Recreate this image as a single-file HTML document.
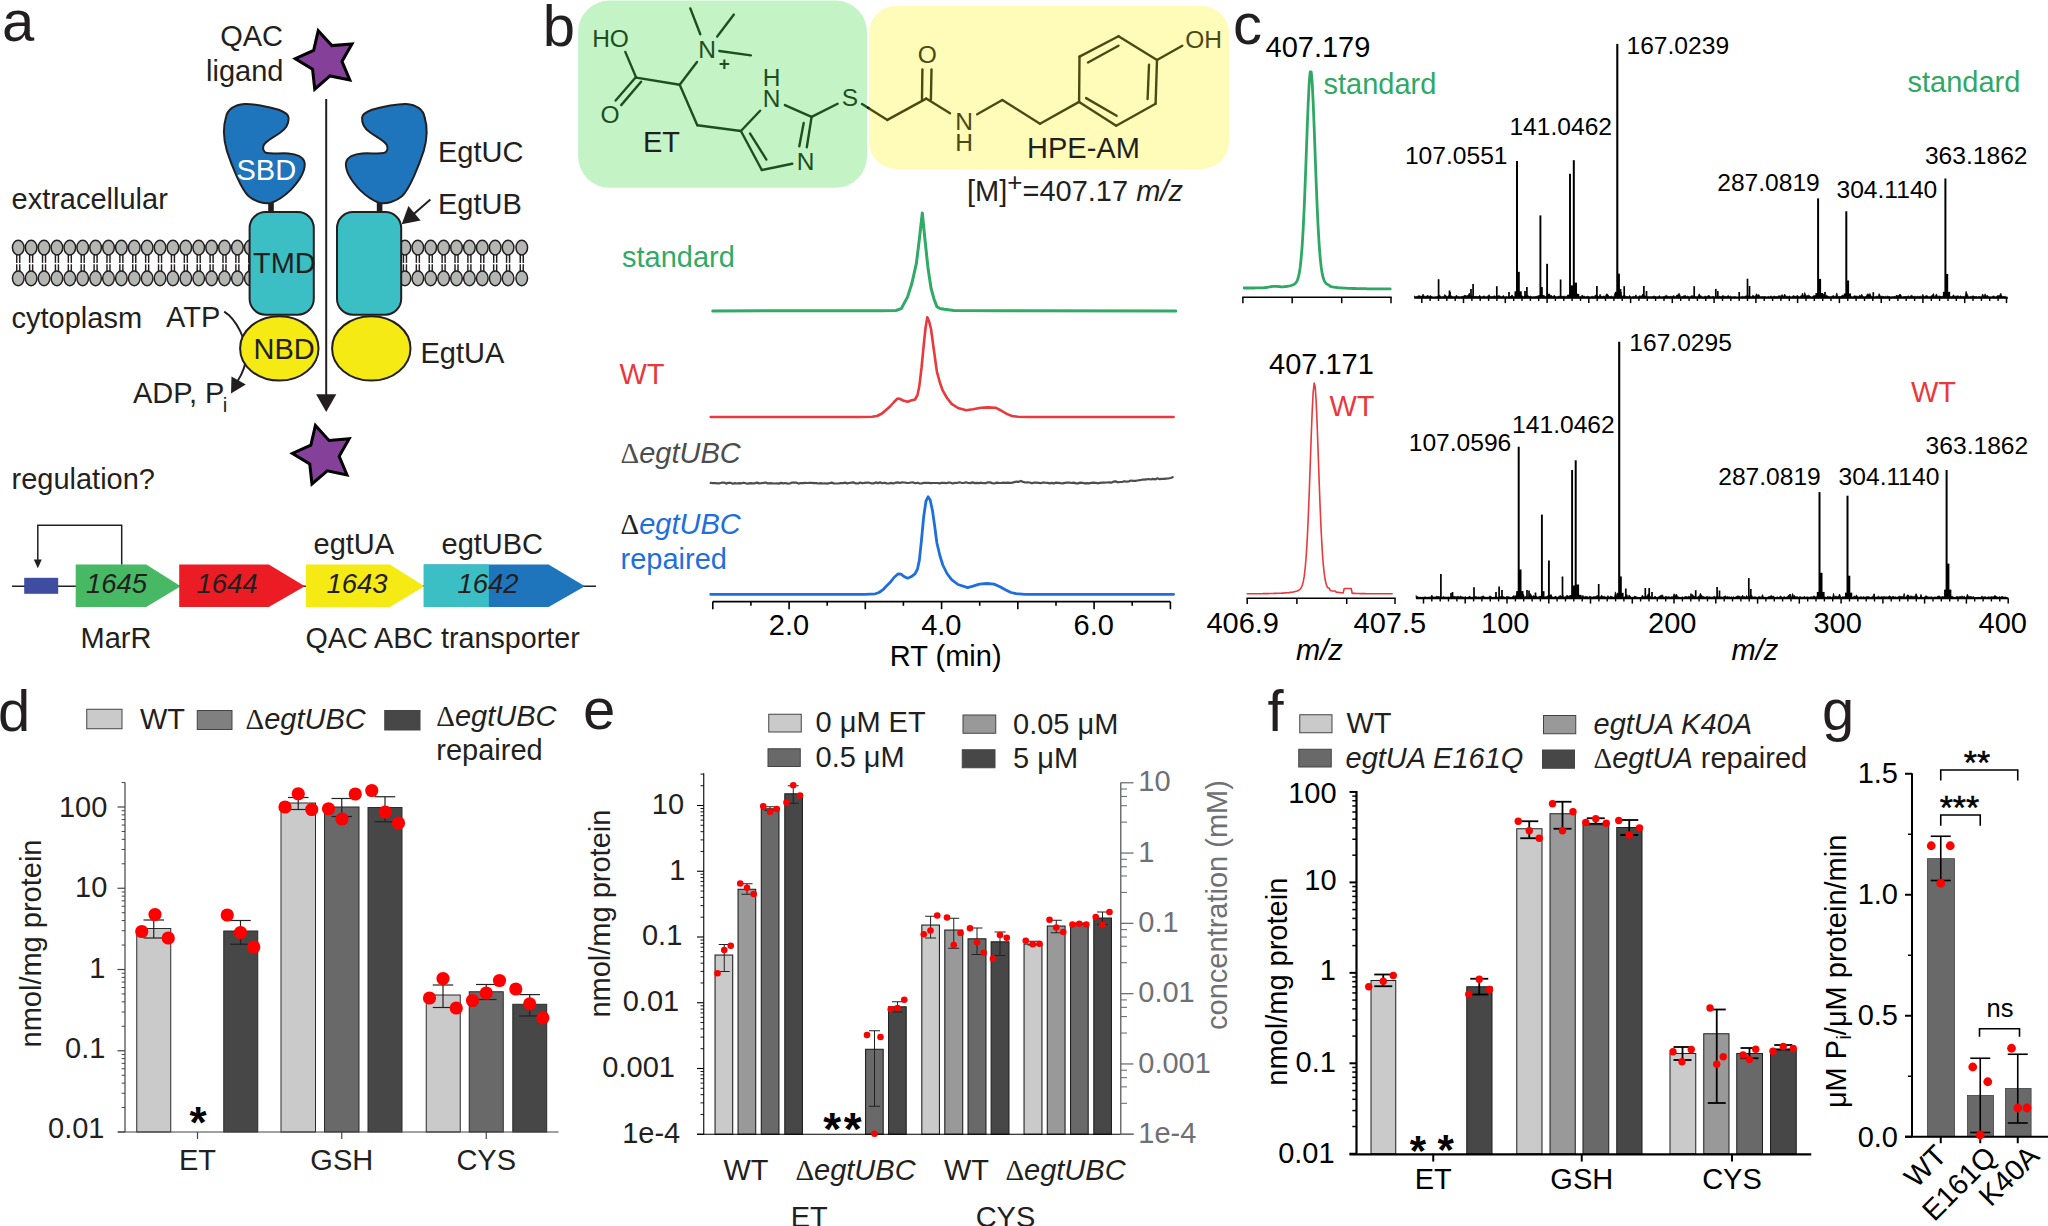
<!DOCTYPE html>
<html lang="en"><head><meta charset="utf-8"><title>Figure</title>
<style>html,body{margin:0;padding:0;background:#fff}svg{display:block}text{font-family:"Liberation Sans",sans-serif}</style>
</head><body>
<svg width="2048" height="1226" viewBox="0 0 2048 1226" font-family='"Liberation Sans", sans-serif'>
<rect width="2048" height="1226" fill="#fff"/>
<g id="pa">
<text x="2" y="41" font-size="58" fill="#231f20">a</text>
<text x="283" y="46" font-size="29" text-anchor="end" fill="#231f20">QAC</text>
<text x="283.5" y="80.5" font-size="29" text-anchor="end" fill="#231f20">ligand</text>
<text x="11.5" y="208.8" font-size="29" fill="#231f20">extracellular</text>
<text x="11.5" y="327.5" font-size="29" fill="#231f20">cytoplasm</text>
<text x="166" y="327" font-size="29" fill="#231f20">ATP</text>
<text x="133" y="403" font-size="29" fill="#231f20">ADP, P</text>
<text x="222.8" y="411.5" font-size="20.5" fill="#231f20">i</text>
<text x="11.5" y="488.8" font-size="29" fill="#231f20">regulation?</text>
<text x="438" y="161.5" font-size="29" fill="#231f20">EgtUC</text>
<text x="438" y="213.8" font-size="29" fill="#231f20">EgtUB</text>
<text x="420.5" y="362.5" font-size="29" fill="#231f20">EgtUA</text>
<polygon points="318.24,30.69 331.84,45.60 351.95,43.91 341.97,61.45 349.80,80.05 330.03,75.98 314.76,89.18 312.52,69.12 295.25,58.67 313.64,50.34" fill="#85409a" stroke="#000" stroke-width="3" stroke-linejoin="miter" stroke-miterlimit="10"/>
<polygon points="315.44,425.49 329.04,440.40 349.15,438.71 339.17,456.25 347.00,474.85 327.23,470.78 311.96,483.98 309.72,463.92 292.45,453.47 310.84,445.14" fill="#85409a" stroke="#000" stroke-width="3" stroke-linejoin="miter" stroke-miterlimit="10"/>
<line x1="16.75" y1="254" x2="16.75" y2="262.9" stroke="#231f20" stroke-width="1.45"/>
<line x1="16.75" y1="264.3" x2="16.75" y2="272" stroke="#231f20" stroke-width="1.45"/>
<line x1="19.75" y1="254" x2="19.75" y2="262.9" stroke="#231f20" stroke-width="1.45"/>
<line x1="19.75" y1="264.3" x2="19.75" y2="272" stroke="#231f20" stroke-width="1.45"/>
<ellipse cx="18.25" cy="247.6" rx="5.8" ry="7.35" fill="#b4b6b4" stroke="#231f20" stroke-width="1.5"/>
<ellipse cx="18.25" cy="278.3" rx="5.8" ry="7.35" fill="#b4b6b4" stroke="#231f20" stroke-width="1.5"/>
<line x1="29.64" y1="254" x2="29.64" y2="262.9" stroke="#231f20" stroke-width="1.45"/>
<line x1="29.64" y1="264.3" x2="29.64" y2="272" stroke="#231f20" stroke-width="1.45"/>
<line x1="32.64" y1="254" x2="32.64" y2="262.9" stroke="#231f20" stroke-width="1.45"/>
<line x1="32.64" y1="264.3" x2="32.64" y2="272" stroke="#231f20" stroke-width="1.45"/>
<ellipse cx="31.14" cy="247.6" rx="5.8" ry="7.35" fill="#b4b6b4" stroke="#231f20" stroke-width="1.5"/>
<ellipse cx="31.14" cy="278.3" rx="5.8" ry="7.35" fill="#b4b6b4" stroke="#231f20" stroke-width="1.5"/>
<line x1="42.53" y1="254" x2="42.53" y2="262.9" stroke="#231f20" stroke-width="1.45"/>
<line x1="42.53" y1="264.3" x2="42.53" y2="272" stroke="#231f20" stroke-width="1.45"/>
<line x1="45.53" y1="254" x2="45.53" y2="262.9" stroke="#231f20" stroke-width="1.45"/>
<line x1="45.53" y1="264.3" x2="45.53" y2="272" stroke="#231f20" stroke-width="1.45"/>
<ellipse cx="44.03" cy="247.6" rx="5.8" ry="7.35" fill="#b4b6b4" stroke="#231f20" stroke-width="1.5"/>
<ellipse cx="44.03" cy="278.3" rx="5.8" ry="7.35" fill="#b4b6b4" stroke="#231f20" stroke-width="1.5"/>
<line x1="55.42" y1="254" x2="55.42" y2="262.9" stroke="#231f20" stroke-width="1.45"/>
<line x1="55.42" y1="264.3" x2="55.42" y2="272" stroke="#231f20" stroke-width="1.45"/>
<line x1="58.42" y1="254" x2="58.42" y2="262.9" stroke="#231f20" stroke-width="1.45"/>
<line x1="58.42" y1="264.3" x2="58.42" y2="272" stroke="#231f20" stroke-width="1.45"/>
<ellipse cx="56.92" cy="247.6" rx="5.8" ry="7.35" fill="#b4b6b4" stroke="#231f20" stroke-width="1.5"/>
<ellipse cx="56.92" cy="278.3" rx="5.8" ry="7.35" fill="#b4b6b4" stroke="#231f20" stroke-width="1.5"/>
<line x1="68.31" y1="254" x2="68.31" y2="262.9" stroke="#231f20" stroke-width="1.45"/>
<line x1="68.31" y1="264.3" x2="68.31" y2="272" stroke="#231f20" stroke-width="1.45"/>
<line x1="71.31" y1="254" x2="71.31" y2="262.9" stroke="#231f20" stroke-width="1.45"/>
<line x1="71.31" y1="264.3" x2="71.31" y2="272" stroke="#231f20" stroke-width="1.45"/>
<ellipse cx="69.81" cy="247.6" rx="5.8" ry="7.35" fill="#b4b6b4" stroke="#231f20" stroke-width="1.5"/>
<ellipse cx="69.81" cy="278.3" rx="5.8" ry="7.35" fill="#b4b6b4" stroke="#231f20" stroke-width="1.5"/>
<line x1="81.20" y1="254" x2="81.20" y2="262.9" stroke="#231f20" stroke-width="1.45"/>
<line x1="81.20" y1="264.3" x2="81.20" y2="272" stroke="#231f20" stroke-width="1.45"/>
<line x1="84.20" y1="254" x2="84.20" y2="262.9" stroke="#231f20" stroke-width="1.45"/>
<line x1="84.20" y1="264.3" x2="84.20" y2="272" stroke="#231f20" stroke-width="1.45"/>
<ellipse cx="82.70" cy="247.6" rx="5.8" ry="7.35" fill="#b4b6b4" stroke="#231f20" stroke-width="1.5"/>
<ellipse cx="82.70" cy="278.3" rx="5.8" ry="7.35" fill="#b4b6b4" stroke="#231f20" stroke-width="1.5"/>
<line x1="94.09" y1="254" x2="94.09" y2="262.9" stroke="#231f20" stroke-width="1.45"/>
<line x1="94.09" y1="264.3" x2="94.09" y2="272" stroke="#231f20" stroke-width="1.45"/>
<line x1="97.09" y1="254" x2="97.09" y2="262.9" stroke="#231f20" stroke-width="1.45"/>
<line x1="97.09" y1="264.3" x2="97.09" y2="272" stroke="#231f20" stroke-width="1.45"/>
<ellipse cx="95.59" cy="247.6" rx="5.8" ry="7.35" fill="#b4b6b4" stroke="#231f20" stroke-width="1.5"/>
<ellipse cx="95.59" cy="278.3" rx="5.8" ry="7.35" fill="#b4b6b4" stroke="#231f20" stroke-width="1.5"/>
<line x1="106.98" y1="254" x2="106.98" y2="262.9" stroke="#231f20" stroke-width="1.45"/>
<line x1="106.98" y1="264.3" x2="106.98" y2="272" stroke="#231f20" stroke-width="1.45"/>
<line x1="109.98" y1="254" x2="109.98" y2="262.9" stroke="#231f20" stroke-width="1.45"/>
<line x1="109.98" y1="264.3" x2="109.98" y2="272" stroke="#231f20" stroke-width="1.45"/>
<ellipse cx="108.48" cy="247.6" rx="5.8" ry="7.35" fill="#b4b6b4" stroke="#231f20" stroke-width="1.5"/>
<ellipse cx="108.48" cy="278.3" rx="5.8" ry="7.35" fill="#b4b6b4" stroke="#231f20" stroke-width="1.5"/>
<line x1="119.87" y1="254" x2="119.87" y2="262.9" stroke="#231f20" stroke-width="1.45"/>
<line x1="119.87" y1="264.3" x2="119.87" y2="272" stroke="#231f20" stroke-width="1.45"/>
<line x1="122.87" y1="254" x2="122.87" y2="262.9" stroke="#231f20" stroke-width="1.45"/>
<line x1="122.87" y1="264.3" x2="122.87" y2="272" stroke="#231f20" stroke-width="1.45"/>
<ellipse cx="121.37" cy="247.6" rx="5.8" ry="7.35" fill="#b4b6b4" stroke="#231f20" stroke-width="1.5"/>
<ellipse cx="121.37" cy="278.3" rx="5.8" ry="7.35" fill="#b4b6b4" stroke="#231f20" stroke-width="1.5"/>
<line x1="132.76" y1="254" x2="132.76" y2="262.9" stroke="#231f20" stroke-width="1.45"/>
<line x1="132.76" y1="264.3" x2="132.76" y2="272" stroke="#231f20" stroke-width="1.45"/>
<line x1="135.76" y1="254" x2="135.76" y2="262.9" stroke="#231f20" stroke-width="1.45"/>
<line x1="135.76" y1="264.3" x2="135.76" y2="272" stroke="#231f20" stroke-width="1.45"/>
<ellipse cx="134.26" cy="247.6" rx="5.8" ry="7.35" fill="#b4b6b4" stroke="#231f20" stroke-width="1.5"/>
<ellipse cx="134.26" cy="278.3" rx="5.8" ry="7.35" fill="#b4b6b4" stroke="#231f20" stroke-width="1.5"/>
<line x1="145.65" y1="254" x2="145.65" y2="262.9" stroke="#231f20" stroke-width="1.45"/>
<line x1="145.65" y1="264.3" x2="145.65" y2="272" stroke="#231f20" stroke-width="1.45"/>
<line x1="148.65" y1="254" x2="148.65" y2="262.9" stroke="#231f20" stroke-width="1.45"/>
<line x1="148.65" y1="264.3" x2="148.65" y2="272" stroke="#231f20" stroke-width="1.45"/>
<ellipse cx="147.15" cy="247.6" rx="5.8" ry="7.35" fill="#b4b6b4" stroke="#231f20" stroke-width="1.5"/>
<ellipse cx="147.15" cy="278.3" rx="5.8" ry="7.35" fill="#b4b6b4" stroke="#231f20" stroke-width="1.5"/>
<line x1="158.54" y1="254" x2="158.54" y2="262.9" stroke="#231f20" stroke-width="1.45"/>
<line x1="158.54" y1="264.3" x2="158.54" y2="272" stroke="#231f20" stroke-width="1.45"/>
<line x1="161.54" y1="254" x2="161.54" y2="262.9" stroke="#231f20" stroke-width="1.45"/>
<line x1="161.54" y1="264.3" x2="161.54" y2="272" stroke="#231f20" stroke-width="1.45"/>
<ellipse cx="160.04" cy="247.6" rx="5.8" ry="7.35" fill="#b4b6b4" stroke="#231f20" stroke-width="1.5"/>
<ellipse cx="160.04" cy="278.3" rx="5.8" ry="7.35" fill="#b4b6b4" stroke="#231f20" stroke-width="1.5"/>
<line x1="171.43" y1="254" x2="171.43" y2="262.9" stroke="#231f20" stroke-width="1.45"/>
<line x1="171.43" y1="264.3" x2="171.43" y2="272" stroke="#231f20" stroke-width="1.45"/>
<line x1="174.43" y1="254" x2="174.43" y2="262.9" stroke="#231f20" stroke-width="1.45"/>
<line x1="174.43" y1="264.3" x2="174.43" y2="272" stroke="#231f20" stroke-width="1.45"/>
<ellipse cx="172.93" cy="247.6" rx="5.8" ry="7.35" fill="#b4b6b4" stroke="#231f20" stroke-width="1.5"/>
<ellipse cx="172.93" cy="278.3" rx="5.8" ry="7.35" fill="#b4b6b4" stroke="#231f20" stroke-width="1.5"/>
<line x1="184.32" y1="254" x2="184.32" y2="262.9" stroke="#231f20" stroke-width="1.45"/>
<line x1="184.32" y1="264.3" x2="184.32" y2="272" stroke="#231f20" stroke-width="1.45"/>
<line x1="187.32" y1="254" x2="187.32" y2="262.9" stroke="#231f20" stroke-width="1.45"/>
<line x1="187.32" y1="264.3" x2="187.32" y2="272" stroke="#231f20" stroke-width="1.45"/>
<ellipse cx="185.82" cy="247.6" rx="5.8" ry="7.35" fill="#b4b6b4" stroke="#231f20" stroke-width="1.5"/>
<ellipse cx="185.82" cy="278.3" rx="5.8" ry="7.35" fill="#b4b6b4" stroke="#231f20" stroke-width="1.5"/>
<line x1="197.21" y1="254" x2="197.21" y2="262.9" stroke="#231f20" stroke-width="1.45"/>
<line x1="197.21" y1="264.3" x2="197.21" y2="272" stroke="#231f20" stroke-width="1.45"/>
<line x1="200.21" y1="254" x2="200.21" y2="262.9" stroke="#231f20" stroke-width="1.45"/>
<line x1="200.21" y1="264.3" x2="200.21" y2="272" stroke="#231f20" stroke-width="1.45"/>
<ellipse cx="198.71" cy="247.6" rx="5.8" ry="7.35" fill="#b4b6b4" stroke="#231f20" stroke-width="1.5"/>
<ellipse cx="198.71" cy="278.3" rx="5.8" ry="7.35" fill="#b4b6b4" stroke="#231f20" stroke-width="1.5"/>
<line x1="210.10" y1="254" x2="210.10" y2="262.9" stroke="#231f20" stroke-width="1.45"/>
<line x1="210.10" y1="264.3" x2="210.10" y2="272" stroke="#231f20" stroke-width="1.45"/>
<line x1="213.10" y1="254" x2="213.10" y2="262.9" stroke="#231f20" stroke-width="1.45"/>
<line x1="213.10" y1="264.3" x2="213.10" y2="272" stroke="#231f20" stroke-width="1.45"/>
<ellipse cx="211.60" cy="247.6" rx="5.8" ry="7.35" fill="#b4b6b4" stroke="#231f20" stroke-width="1.5"/>
<ellipse cx="211.60" cy="278.3" rx="5.8" ry="7.35" fill="#b4b6b4" stroke="#231f20" stroke-width="1.5"/>
<line x1="222.99" y1="254" x2="222.99" y2="262.9" stroke="#231f20" stroke-width="1.45"/>
<line x1="222.99" y1="264.3" x2="222.99" y2="272" stroke="#231f20" stroke-width="1.45"/>
<line x1="225.99" y1="254" x2="225.99" y2="262.9" stroke="#231f20" stroke-width="1.45"/>
<line x1="225.99" y1="264.3" x2="225.99" y2="272" stroke="#231f20" stroke-width="1.45"/>
<ellipse cx="224.49" cy="247.6" rx="5.8" ry="7.35" fill="#b4b6b4" stroke="#231f20" stroke-width="1.5"/>
<ellipse cx="224.49" cy="278.3" rx="5.8" ry="7.35" fill="#b4b6b4" stroke="#231f20" stroke-width="1.5"/>
<line x1="235.88" y1="254" x2="235.88" y2="262.9" stroke="#231f20" stroke-width="1.45"/>
<line x1="235.88" y1="264.3" x2="235.88" y2="272" stroke="#231f20" stroke-width="1.45"/>
<line x1="238.88" y1="254" x2="238.88" y2="262.9" stroke="#231f20" stroke-width="1.45"/>
<line x1="238.88" y1="264.3" x2="238.88" y2="272" stroke="#231f20" stroke-width="1.45"/>
<ellipse cx="237.38" cy="247.6" rx="5.8" ry="7.35" fill="#b4b6b4" stroke="#231f20" stroke-width="1.5"/>
<ellipse cx="237.38" cy="278.3" rx="5.8" ry="7.35" fill="#b4b6b4" stroke="#231f20" stroke-width="1.5"/>
<line x1="248.77" y1="254" x2="248.77" y2="262.9" stroke="#231f20" stroke-width="1.45"/>
<line x1="248.77" y1="264.3" x2="248.77" y2="272" stroke="#231f20" stroke-width="1.45"/>
<line x1="251.77" y1="254" x2="251.77" y2="262.9" stroke="#231f20" stroke-width="1.45"/>
<line x1="251.77" y1="264.3" x2="251.77" y2="272" stroke="#231f20" stroke-width="1.45"/>
<ellipse cx="250.27" cy="247.6" rx="5.8" ry="7.35" fill="#b4b6b4" stroke="#231f20" stroke-width="1.5"/>
<ellipse cx="250.27" cy="278.3" rx="5.8" ry="7.35" fill="#b4b6b4" stroke="#231f20" stroke-width="1.5"/>
<line x1="403.45" y1="254" x2="403.45" y2="262.9" stroke="#231f20" stroke-width="1.45"/>
<line x1="403.45" y1="264.3" x2="403.45" y2="272" stroke="#231f20" stroke-width="1.45"/>
<line x1="406.45" y1="254" x2="406.45" y2="262.9" stroke="#231f20" stroke-width="1.45"/>
<line x1="406.45" y1="264.3" x2="406.45" y2="272" stroke="#231f20" stroke-width="1.45"/>
<ellipse cx="404.95" cy="247.6" rx="5.8" ry="7.35" fill="#b4b6b4" stroke="#231f20" stroke-width="1.5"/>
<ellipse cx="404.95" cy="278.3" rx="5.8" ry="7.35" fill="#b4b6b4" stroke="#231f20" stroke-width="1.5"/>
<line x1="416.34" y1="254" x2="416.34" y2="262.9" stroke="#231f20" stroke-width="1.45"/>
<line x1="416.34" y1="264.3" x2="416.34" y2="272" stroke="#231f20" stroke-width="1.45"/>
<line x1="419.34" y1="254" x2="419.34" y2="262.9" stroke="#231f20" stroke-width="1.45"/>
<line x1="419.34" y1="264.3" x2="419.34" y2="272" stroke="#231f20" stroke-width="1.45"/>
<ellipse cx="417.84" cy="247.6" rx="5.8" ry="7.35" fill="#b4b6b4" stroke="#231f20" stroke-width="1.5"/>
<ellipse cx="417.84" cy="278.3" rx="5.8" ry="7.35" fill="#b4b6b4" stroke="#231f20" stroke-width="1.5"/>
<line x1="429.23" y1="254" x2="429.23" y2="262.9" stroke="#231f20" stroke-width="1.45"/>
<line x1="429.23" y1="264.3" x2="429.23" y2="272" stroke="#231f20" stroke-width="1.45"/>
<line x1="432.23" y1="254" x2="432.23" y2="262.9" stroke="#231f20" stroke-width="1.45"/>
<line x1="432.23" y1="264.3" x2="432.23" y2="272" stroke="#231f20" stroke-width="1.45"/>
<ellipse cx="430.73" cy="247.6" rx="5.8" ry="7.35" fill="#b4b6b4" stroke="#231f20" stroke-width="1.5"/>
<ellipse cx="430.73" cy="278.3" rx="5.8" ry="7.35" fill="#b4b6b4" stroke="#231f20" stroke-width="1.5"/>
<line x1="442.12" y1="254" x2="442.12" y2="262.9" stroke="#231f20" stroke-width="1.45"/>
<line x1="442.12" y1="264.3" x2="442.12" y2="272" stroke="#231f20" stroke-width="1.45"/>
<line x1="445.12" y1="254" x2="445.12" y2="262.9" stroke="#231f20" stroke-width="1.45"/>
<line x1="445.12" y1="264.3" x2="445.12" y2="272" stroke="#231f20" stroke-width="1.45"/>
<ellipse cx="443.62" cy="247.6" rx="5.8" ry="7.35" fill="#b4b6b4" stroke="#231f20" stroke-width="1.5"/>
<ellipse cx="443.62" cy="278.3" rx="5.8" ry="7.35" fill="#b4b6b4" stroke="#231f20" stroke-width="1.5"/>
<line x1="455.01" y1="254" x2="455.01" y2="262.9" stroke="#231f20" stroke-width="1.45"/>
<line x1="455.01" y1="264.3" x2="455.01" y2="272" stroke="#231f20" stroke-width="1.45"/>
<line x1="458.01" y1="254" x2="458.01" y2="262.9" stroke="#231f20" stroke-width="1.45"/>
<line x1="458.01" y1="264.3" x2="458.01" y2="272" stroke="#231f20" stroke-width="1.45"/>
<ellipse cx="456.51" cy="247.6" rx="5.8" ry="7.35" fill="#b4b6b4" stroke="#231f20" stroke-width="1.5"/>
<ellipse cx="456.51" cy="278.3" rx="5.8" ry="7.35" fill="#b4b6b4" stroke="#231f20" stroke-width="1.5"/>
<line x1="467.90" y1="254" x2="467.90" y2="262.9" stroke="#231f20" stroke-width="1.45"/>
<line x1="467.90" y1="264.3" x2="467.90" y2="272" stroke="#231f20" stroke-width="1.45"/>
<line x1="470.90" y1="254" x2="470.90" y2="262.9" stroke="#231f20" stroke-width="1.45"/>
<line x1="470.90" y1="264.3" x2="470.90" y2="272" stroke="#231f20" stroke-width="1.45"/>
<ellipse cx="469.40" cy="247.6" rx="5.8" ry="7.35" fill="#b4b6b4" stroke="#231f20" stroke-width="1.5"/>
<ellipse cx="469.40" cy="278.3" rx="5.8" ry="7.35" fill="#b4b6b4" stroke="#231f20" stroke-width="1.5"/>
<line x1="480.79" y1="254" x2="480.79" y2="262.9" stroke="#231f20" stroke-width="1.45"/>
<line x1="480.79" y1="264.3" x2="480.79" y2="272" stroke="#231f20" stroke-width="1.45"/>
<line x1="483.79" y1="254" x2="483.79" y2="262.9" stroke="#231f20" stroke-width="1.45"/>
<line x1="483.79" y1="264.3" x2="483.79" y2="272" stroke="#231f20" stroke-width="1.45"/>
<ellipse cx="482.29" cy="247.6" rx="5.8" ry="7.35" fill="#b4b6b4" stroke="#231f20" stroke-width="1.5"/>
<ellipse cx="482.29" cy="278.3" rx="5.8" ry="7.35" fill="#b4b6b4" stroke="#231f20" stroke-width="1.5"/>
<line x1="493.68" y1="254" x2="493.68" y2="262.9" stroke="#231f20" stroke-width="1.45"/>
<line x1="493.68" y1="264.3" x2="493.68" y2="272" stroke="#231f20" stroke-width="1.45"/>
<line x1="496.68" y1="254" x2="496.68" y2="262.9" stroke="#231f20" stroke-width="1.45"/>
<line x1="496.68" y1="264.3" x2="496.68" y2="272" stroke="#231f20" stroke-width="1.45"/>
<ellipse cx="495.18" cy="247.6" rx="5.8" ry="7.35" fill="#b4b6b4" stroke="#231f20" stroke-width="1.5"/>
<ellipse cx="495.18" cy="278.3" rx="5.8" ry="7.35" fill="#b4b6b4" stroke="#231f20" stroke-width="1.5"/>
<line x1="506.57" y1="254" x2="506.57" y2="262.9" stroke="#231f20" stroke-width="1.45"/>
<line x1="506.57" y1="264.3" x2="506.57" y2="272" stroke="#231f20" stroke-width="1.45"/>
<line x1="509.57" y1="254" x2="509.57" y2="262.9" stroke="#231f20" stroke-width="1.45"/>
<line x1="509.57" y1="264.3" x2="509.57" y2="272" stroke="#231f20" stroke-width="1.45"/>
<ellipse cx="508.07" cy="247.6" rx="5.8" ry="7.35" fill="#b4b6b4" stroke="#231f20" stroke-width="1.5"/>
<ellipse cx="508.07" cy="278.3" rx="5.8" ry="7.35" fill="#b4b6b4" stroke="#231f20" stroke-width="1.5"/>
<line x1="520.26" y1="254" x2="520.26" y2="262.9" stroke="#231f20" stroke-width="1.45"/>
<line x1="520.26" y1="264.3" x2="520.26" y2="272" stroke="#231f20" stroke-width="1.45"/>
<line x1="523.26" y1="254" x2="523.26" y2="262.9" stroke="#231f20" stroke-width="1.45"/>
<line x1="523.26" y1="264.3" x2="523.26" y2="272" stroke="#231f20" stroke-width="1.45"/>
<ellipse cx="521.76" cy="247.6" rx="5.8" ry="7.35" fill="#b4b6b4" stroke="#231f20" stroke-width="1.5"/>
<ellipse cx="521.76" cy="278.3" rx="5.8" ry="7.35" fill="#b4b6b4" stroke="#231f20" stroke-width="1.5"/>
<line x1="326.2" y1="99" x2="326.2" y2="396" stroke="#231f20" stroke-width="2.0"/>
<polygon points="316.1,394.2 336.3,394.2 326.2,412" fill="#231f20"/>
<path d="M224.2,311.7 C236,319 247,340 246.3,356 C245.6,367 241.5,375 237.6,381" fill="none" stroke="#231f20" stroke-width="2.0"/>
<polygon points="231.5,376.4 245.8,384.4 231,393.4" fill="#231f20"/>
<rect x="268.20" y="200.00" width="5.60" height="13.00" fill="#231f20"/>
<rect x="376.80" y="200.00" width="5.60" height="13.00" fill="#231f20"/>
<path d="M225.9,117.6 C227,110 234,104.5 244.5,103.9 C252,103.6 268,106.5 278.7,109.8 C284,111.8 288.3,114.5 288.5,117.5 C289,124 286,128.5 280.7,132.3 C275,136.5 266,140.5 263.8,145 C262.4,148.5 263.2,152.2 267,153.1 C272,154 280,153 288.5,153.4 C296,153.8 304.2,157 304.7,163.6 C305,169 302,178 290.5,190.1 C283,197.5 275,201.5 271,203 C264,204.2 255,201.5 248.4,195.9 C241,189 231.5,165 226.9,150.9 C224,141 222.8,128 225.9,117.6 Z" fill="#1f75bc" stroke="#231f20" stroke-width="2.0"/>
<g transform="translate(650.6 0) scale(-1 1)">
<path d="M225.9,117.6 C227,110 234,104.5 244.5,103.9 C252,103.6 268,106.5 278.7,109.8 C284,111.8 288.3,114.5 288.5,117.5 C289,124 286,128.5 280.7,132.3 C275,136.5 266,140.5 263.8,145 C262.4,148.5 263.2,152.2 267,153.1 C272,154 280,153 288.5,153.4 C296,153.8 304.2,157 304.7,163.6 C305,169 302,178 290.5,190.1 C283,197.5 275,201.5 271,203 C264,204.2 255,201.5 248.4,195.9 C241,189 231.5,165 226.9,150.9 C224,141 222.8,128 225.9,117.6 Z" fill="#1f75bc" stroke="#231f20" stroke-width="2.0"/>
</g>
<rect x="249.60" y="212.10" width="64.20" height="102.60" fill="#3bbfc4" stroke="#231f20" stroke-width="2.0" rx="16"/>
<rect x="337.00" y="212.10" width="64.20" height="102.60" fill="#3bbfc4" stroke="#231f20" stroke-width="2.0" rx="16"/>
<ellipse cx="279.3" cy="348.4" rx="39.2" ry="32.2" fill="#f5ea14" stroke="#231f20" stroke-width="2.0"/>
<ellipse cx="371.3" cy="348.4" rx="39.2" ry="32.2" fill="#f5ea14" stroke="#231f20" stroke-width="2.0"/>
<text x="236.5" y="179.8" font-size="29" fill="#fff">SBD</text>
<text x="253" y="272.5" font-size="29" fill="#231f20">TMD</text>
<text x="253.5" y="358.8" font-size="29" fill="#231f20">NBD</text>
<line x1="430.4" y1="199.6" x2="412" y2="215.5" stroke="#231f20" stroke-width="2.0"/>
<polygon points="401.7,224.2 408.4,205.9 420.6,220.6" fill="#231f20"/>
<line x1="12" y1="586.3" x2="596" y2="586.3" stroke="#231f20" stroke-width="1.5"/>
<rect x="24.20" y="577.80" width="34.00" height="16.00" fill="#3f4da1"/>
<polygon points="75.7,564.5 146.2,564.5 180.7,586.3 146.2,607 75.7,607" fill="#47b864"/>
<polygon points="179.2,564.5 268.8,564.5 304.9,586.3 268.8,607 179.2,607" fill="#ec1c24"/>
<polygon points="305.8,564.5 389.9,564.5 424.4,586.3 389.9,607 305.8,607" fill="#f5ea14"/>
<polygon points="423.8,564.5 548.6,564.5 584.9,586.3 548.6,607 423.8,607" fill="#1f75bc"/>
<rect x="423.80" y="564.50" width="65.10" height="42.50" fill="#3bbfc4"/>
<path d="M121.7,564.5 V525.2 H37.8 V561" fill="none" stroke="#231f20" stroke-width="1.5"/>
<polygon points="33.8,559.5 41.8,559.5 37.8,568.3" fill="#231f20"/>
<text x="116.5" y="593.4" font-size="27.5" text-anchor="middle" font-style="italic" fill="#231f20">1645</text>
<text x="227" y="593.4" font-size="27.5" text-anchor="middle" font-style="italic" fill="#231f20">1644</text>
<text x="357" y="593.4" font-size="27.5" text-anchor="middle" font-style="italic" fill="#231f20">1643</text>
<text x="488" y="593.4" font-size="27.5" text-anchor="middle" font-style="italic" fill="#231f20">1642</text>
<text x="313.5" y="554" font-size="29" fill="#231f20">egtUA</text>
<text x="441.5" y="554" font-size="29" fill="#231f20">egtUBC</text>
<text x="80.5" y="647.7" font-size="29" fill="#231f20">MarR</text>
<text x="305.5" y="647.7" font-size="28.7" fill="#231f20">QAC ABC transporter</text>
</g>
<g id="pb">
<text x="542.8" y="45.9" font-size="58" fill="#231f20">b</text>
<rect x="578.10" y="0.60" width="288.90" height="187.20" fill="#c4f3c6" rx="31.5"/>
<rect x="869.00" y="5.90" width="360.00" height="163.00" fill="#fffcba" rx="27"/>
<line x1="625.3" y1="51.9" x2="636.2" y2="77.6" stroke="#1d4f1f" stroke-width="2.4" stroke-linecap="round"/>
<line x1="635.8" y1="77.3" x2="615.6" y2="100.5" stroke="#1d4f1f" stroke-width="2.4" stroke-linecap="round"/>
<line x1="641.1" y1="81.7" x2="621.2" y2="105.1" stroke="#1d4f1f" stroke-width="2.4" stroke-linecap="round"/>
<line x1="636.2" y1="77.6" x2="679.7" y2="84.7" stroke="#1d4f1f" stroke-width="2.4" stroke-linecap="round"/>
<line x1="679.7" y1="84.7" x2="697" y2="61.9" stroke="#1d4f1f" stroke-width="2.4" stroke-linecap="round"/>
<line x1="700.3" y1="34.3" x2="690.3" y2="8.4" stroke="#1d4f1f" stroke-width="2.4" stroke-linecap="round"/>
<line x1="717.2" y1="36.6" x2="733.9" y2="14.6" stroke="#1d4f1f" stroke-width="2.4" stroke-linecap="round"/>
<line x1="719.3" y1="51" x2="750.9" y2="55.4" stroke="#1d4f1f" stroke-width="2.4" stroke-linecap="round"/>
<line x1="679.7" y1="84.7" x2="697.3" y2="125.2" stroke="#1d4f1f" stroke-width="2.4" stroke-linecap="round"/>
<line x1="697.3" y1="125.2" x2="740.9" y2="131" stroke="#1d4f1f" stroke-width="2.4" stroke-linecap="round"/>
<line x1="740.9" y1="131" x2="760.1" y2="110.7" stroke="#1d4f1f" stroke-width="2.4" stroke-linecap="round"/>
<line x1="784.9" y1="105.1" x2="811.6" y2="116.9" stroke="#1d4f1f" stroke-width="2.4" stroke-linecap="round"/>
<line x1="811.6" y1="116.9" x2="837.6" y2="103.7" stroke="#1d4f1f" stroke-width="2.4" stroke-linecap="round"/>
<line x1="811.6" y1="116.9" x2="806.8" y2="147.3" stroke="#1d4f1f" stroke-width="2.4" stroke-linecap="round"/>
<line x1="803.7" y1="123" x2="799.3" y2="146.3" stroke="#1d4f1f" stroke-width="2.4" stroke-linecap="round"/>
<line x1="792.2" y1="163.8" x2="761.8" y2="170" stroke="#1d4f1f" stroke-width="2.4" stroke-linecap="round"/>
<line x1="761.8" y1="170" x2="740.9" y2="131" stroke="#1d4f1f" stroke-width="2.4" stroke-linecap="round"/>
<line x1="766.4" y1="159.6" x2="750.1" y2="133.6" stroke="#1d4f1f" stroke-width="2.4" stroke-linecap="round"/>
<line x1="862" y1="104.1" x2="868" y2="107.8" stroke="#1d4f1f" stroke-width="2.4" stroke-linecap="round"/>
<line x1="868" y1="107.8" x2="869.5" y2="108.7" stroke="#111" stroke-width="2.4" stroke-linecap="round"/>
<line x1="869.5" y1="108.7" x2="887.4" y2="119.9" stroke="#4b4a13" stroke-width="2.4" stroke-linecap="round"/>
<text x="610.5" y="46.8" font-size="24.5" text-anchor="middle" fill="#1d4f1f">HO</text>
<text x="610" y="122.8" font-size="24.5" text-anchor="middle" fill="#1d4f1f">O</text>
<text x="707" y="58" font-size="24.5" text-anchor="middle" fill="#1d4f1f">N</text>
<text x="724.2" y="69.5" font-size="19" text-anchor="middle" fill="#1d4f1f" font-weight="bold">+</text>
<text x="771.5" y="85.5" font-size="24.5" text-anchor="middle" fill="#1d4f1f">H</text>
<text x="771.5" y="106.5" font-size="24.5" text-anchor="middle" fill="#1d4f1f">N</text>
<text x="805.7" y="169.8" font-size="24.5" text-anchor="middle" fill="#1d4f1f">N</text>
<text x="850" y="106.3" font-size="24.5" text-anchor="middle" fill="#1d4f1f">S</text>
<text x="643" y="151.5" font-size="29" fill="#231f20">ET</text>
<line x1="887.4" y1="119.9" x2="926.2" y2="98.6" stroke="#4b4a13" stroke-width="2.4" stroke-linecap="round"/>
<line x1="922" y1="99.5" x2="922.4" y2="69.5" stroke="#4b4a13" stroke-width="2.4" stroke-linecap="round"/>
<line x1="930.9" y1="99.5" x2="931.5" y2="69.5" stroke="#4b4a13" stroke-width="2.4" stroke-linecap="round"/>
<line x1="926.2" y1="98.6" x2="950" y2="113.3" stroke="#4b4a13" stroke-width="2.4" stroke-linecap="round"/>
<line x1="977.2" y1="114.3" x2="1002.3" y2="100" stroke="#4b4a13" stroke-width="2.4" stroke-linecap="round"/>
<line x1="1002.3" y1="100" x2="1040" y2="123.8" stroke="#4b4a13" stroke-width="2.4" stroke-linecap="round"/>
<line x1="1040" y1="123.8" x2="1079.1" y2="101.9" stroke="#4b4a13" stroke-width="2.4" stroke-linecap="round"/>
<line x1="1079.1" y1="101.9" x2="1079.5" y2="56.6" stroke="#4b4a13" stroke-width="2.4" stroke-linecap="round"/>
<line x1="1079.5" y1="56.6" x2="1118.5" y2="36.2" stroke="#4b4a13" stroke-width="2.4" stroke-linecap="round"/>
<line x1="1118.5" y1="36.2" x2="1157" y2="60" stroke="#4b4a13" stroke-width="2.4" stroke-linecap="round"/>
<line x1="1157" y1="60" x2="1155.6" y2="103.8" stroke="#4b4a13" stroke-width="2.4" stroke-linecap="round"/>
<line x1="1155.6" y1="103.8" x2="1116.2" y2="125.7" stroke="#4b4a13" stroke-width="2.4" stroke-linecap="round"/>
<line x1="1116.2" y1="125.7" x2="1079.1" y2="101.9" stroke="#4b4a13" stroke-width="2.4" stroke-linecap="round"/>
<line x1="1088" y1="62.5" x2="1118.5" y2="45.7" stroke="#4b4a13" stroke-width="2.4" stroke-linecap="round"/>
<line x1="1149" y1="64.7" x2="1147.6" y2="99" stroke="#4b4a13" stroke-width="2.4" stroke-linecap="round"/>
<line x1="1086.1" y1="98.1" x2="1116.6" y2="115.8" stroke="#4b4a13" stroke-width="2.4" stroke-linecap="round"/>
<line x1="1157" y1="60" x2="1182.3" y2="45.7" stroke="#4b4a13" stroke-width="2.4" stroke-linecap="round"/>
<text x="927.3" y="62.8" font-size="24.5" text-anchor="middle" fill="#4b4a13">O</text>
<text x="964" y="129.5" font-size="24.5" text-anchor="middle" fill="#4b4a13">N</text>
<text x="964" y="151.4" font-size="24.5" text-anchor="middle" fill="#4b4a13">H</text>
<text x="1203.5" y="47.6" font-size="24.5" text-anchor="middle" fill="#4b4a13">OH</text>
<text x="1027" y="158.4" font-size="29" fill="#231f20">HPE-AM</text>
<text x="967" y="200.5" font-size="29" fill="#231f20">[M]<tspan dy="-10" font-size="26">+</tspan><tspan dy="10">=407.17 </tspan><tspan font-style="italic">m/z</tspan></text>
<polyline points="712.8,310.9 880.0,310.7 895.9,310.5 901.2,308.7 907.6,296.9 912.0,283.0 916.4,263.2 919.5,238.0 922.3,212.9 925.0,240.0 928.0,268.0 931.0,288.0 934.0,299.0 936.9,306.6 940.0,308.5 944.2,309.3 954.0,310.4 1000.0,310.7 1175.7,310.9" fill="none" stroke="#30aa66" stroke-width="3.0" stroke-linejoin="round" stroke-linecap="round"/>
<polyline points="710.7,417.0 860.0,417.0 872.0,416.8 877.0,416.0 882.0,413.5 886.0,410.0 890.0,406.5 894.0,402.0 897.4,398.6 900.0,398.8 903.0,400.5 907.6,401.8 911.0,400.5 915.0,399.5 917.5,395.0 919.3,386.3 921.5,368.0 923.7,345.3 925.5,328.0 927.3,317.4 929.0,321.0 931.0,329.0 934.0,351.0 936.9,371.6 940.0,383.0 942.8,390.7 947.0,398.0 951.6,403.9 958.0,408.0 966.2,410.3 973.0,409.2 980.9,407.7 988.0,407.4 995.5,407.7 1001.0,410.5 1007.2,414.1 1012.0,416.0 1018.0,416.8 1030.0,417.0 1173.6,417.0" fill="none" stroke="#e8393c" stroke-width="2.6" stroke-linejoin="round" stroke-linecap="round"/>
<polyline points="710.7,482.9 712.9,483.2 715.1,483.0 717.3,483.3 719.5,483.3 721.7,482.7 723.9,482.6 726.1,483.6 728.3,482.9 730.5,482.8 732.7,483.7 734.9,483.1 737.1,483.5 739.3,483.1 741.5,483.3 743.7,482.7 745.9,483.3 748.1,483.6 750.3,483.1 752.5,483.4 754.7,483.3 756.9,482.6 759.1,483.4 761.3,483.2 763.5,482.9 765.7,482.5 767.9,483.5 770.1,483.1 772.3,483.3 774.5,483.5 776.7,483.3 778.9,483.6 781.1,482.9 783.3,483.4 785.5,483.0 787.7,483.6 789.9,483.5 792.1,482.6 794.3,482.6 796.5,482.7 798.7,483.6 800.9,483.0 803.1,483.2 805.3,482.8 807.5,483.0 809.7,482.9 811.9,482.8 814.1,483.1 816.3,483.1 818.5,483.5 820.7,483.2 822.9,483.5 825.1,483.4 827.3,483.6 829.5,483.2 831.7,482.6 833.9,483.4 836.1,483.5 838.3,483.5 840.5,483.1 842.7,483.2 844.9,482.6 847.1,483.4 849.3,483.0 851.5,482.7 853.7,482.4 855.9,483.4 858.1,483.5 860.3,482.5 862.5,483.3 864.7,482.8 866.9,482.5 869.1,482.7 871.3,483.3 873.5,483.4 875.7,482.4 877.9,483.1 880.1,482.4 882.3,483.2 884.5,482.7 886.7,483.4 888.9,483.5 891.1,482.9 893.3,483.5 895.5,482.7 897.7,482.4 899.9,483.0 902.1,482.4 904.3,482.5 906.5,482.8 908.7,483.0 910.9,482.5 913.1,482.4 915.3,483.3 917.5,482.7 919.7,483.5 921.9,483.4 924.1,482.8 926.3,482.9 928.5,482.9 930.7,483.1 932.9,483.0 935.1,483.0 937.3,483.0 939.5,483.4 941.7,482.9 943.9,482.8 946.1,483.2 948.3,482.6 950.5,482.7 952.7,483.5 954.9,482.9 957.1,483.0 959.3,482.3 961.5,482.8 963.7,483.0 965.9,482.3 968.1,483.0 970.3,483.1 972.5,482.4 974.7,483.1 976.9,482.9 979.1,483.1 981.3,482.7 983.5,483.2 985.7,483.2 987.9,482.3 990.1,482.4 992.3,483.1 994.5,483.5 996.7,482.6 998.9,482.9 1001.1,483.0 1003.3,482.7 1005.5,482.8 1007.7,482.7 1009.9,482.8 1012.1,482.8 1014.3,482.1 1016.5,481.7 1018.7,481.8 1020.9,480.9 1023.1,481.9 1025.3,482.5 1027.5,482.4 1029.7,482.5 1031.9,483.3 1034.1,482.6 1036.3,482.6 1038.5,482.9 1040.7,483.2 1042.9,482.5 1045.1,482.7 1047.3,482.8 1049.5,483.4 1051.7,482.9 1053.9,483.4 1056.1,482.6 1058.3,482.8 1060.5,483.2 1062.7,483.4 1064.9,482.9 1067.1,482.7 1069.3,482.5 1071.5,483.0 1073.7,482.6 1075.9,483.4 1078.1,483.4 1080.3,482.6 1082.5,482.8 1084.7,483.4 1086.9,483.2 1089.1,483.4 1091.3,482.8 1093.5,482.6 1095.7,482.8 1097.9,483.4 1100.1,482.8 1102.3,482.7 1104.5,482.6 1106.7,482.5 1108.9,482.3 1111.1,482.7 1113.3,481.7 1115.5,481.3 1117.7,482.3 1119.9,482.0 1122.1,482.0 1124.3,481.2 1126.5,481.7 1128.7,481.5 1130.9,480.5 1133.1,480.9 1135.3,480.9 1137.5,480.5 1139.7,480.2 1141.9,479.7 1144.1,479.6 1146.3,479.3 1148.5,479.0 1150.7,479.5 1152.9,478.9 1155.1,479.4 1157.3,478.3 1159.5,479.2 1161.7,478.8 1163.9,478.9 1166.1,478.7 1168.3,478.5 1170.5,478.0 1172.7,477.2" fill="none" stroke="#4d4d4d" stroke-width="2.2" stroke-linejoin="round" stroke-linecap="round"/>
<polyline points="710.7,594.3 865.0,594.3 875.4,593.8 879.0,592.5 882.7,589.9 886.0,586.5 890.0,582.6 894.0,577.5 898.2,573.8 901.0,574.2 904.0,576.5 907.6,578.2 911.0,576.8 915.0,573.8 917.5,569.0 919.3,560.6 921.5,540.0 923.7,516.7 926.0,501.0 928.1,496.8 930.2,500.0 932.5,510.8 934.8,527.0 936.9,543.0 940.0,556.0 942.8,565.0 947.0,573.5 951.6,579.7 958.0,584.5 967.7,587.6 973.0,586.2 979.4,584.1 987.0,583.5 994.0,584.1 1000.0,586.7 1005.8,589.9 1011.0,592.5 1016.0,593.7 1025.0,594.3 1173.6,594.3" fill="none" stroke="#1e6fdc" stroke-width="2.8" stroke-linejoin="round" stroke-linecap="round"/>
<text x="622" y="266.8" font-size="29" fill="#30aa66">standard</text>
<text x="619.5" y="383.9" font-size="29" fill="#e8393c">WT</text>
<text x="620.5" y="462.5" font-size="29" fill="#4d4d4d"><tspan font-family="Liberation Serif, serif" font-style="normal" fill="#4d4d4d">Δ</tspan><tspan font-style="italic">egtUBC</tspan></text>
<text x="620.5" y="534.3" font-size="29" fill="#1e6fdc"><tspan font-family="Liberation Serif, serif" font-style="normal" fill="#231f20">Δ</tspan><tspan font-style="italic">egtUBC</tspan></text>
<text x="620.5" y="568.8" font-size="29" fill="#1e6fdc">repaired</text>
<line x1="712.8" y1="601.6" x2="1170.4" y2="601.6" stroke="#000" stroke-width="1.6"/>
<line x1="712.8" y1="601.6" x2="712.8" y2="609.2" stroke="#000" stroke-width="1.6"/>
<line x1="750.9" y1="601.6" x2="750.9" y2="605.8000000000001" stroke="#000" stroke-width="1.6"/>
<line x1="789.1" y1="601.6" x2="789.1" y2="609.2" stroke="#000" stroke-width="1.6"/>
<line x1="827.2" y1="601.6" x2="827.2" y2="605.8000000000001" stroke="#000" stroke-width="1.6"/>
<line x1="865.3" y1="601.6" x2="865.3" y2="609.2" stroke="#000" stroke-width="1.6"/>
<line x1="903.4" y1="601.6" x2="903.4" y2="605.8000000000001" stroke="#000" stroke-width="1.6"/>
<line x1="941.6" y1="601.6" x2="941.6" y2="609.2" stroke="#000" stroke-width="1.6"/>
<line x1="979.7" y1="601.6" x2="979.7" y2="605.8000000000001" stroke="#000" stroke-width="1.6"/>
<line x1="1017.8" y1="601.6" x2="1017.8" y2="609.2" stroke="#000" stroke-width="1.6"/>
<line x1="1056.0" y1="601.6" x2="1056.0" y2="605.8000000000001" stroke="#000" stroke-width="1.6"/>
<line x1="1094.1" y1="601.6" x2="1094.1" y2="609.2" stroke="#000" stroke-width="1.6"/>
<line x1="1132.2" y1="601.6" x2="1132.2" y2="605.8000000000001" stroke="#000" stroke-width="1.6"/>
<line x1="1170.4" y1="601.6" x2="1170.4" y2="609.2" stroke="#000" stroke-width="1.6"/>
<text x="789" y="635.3" font-size="29" text-anchor="middle" fill="#000">2.0</text>
<text x="941.3" y="635.3" font-size="29" text-anchor="middle" fill="#000">4.0</text>
<text x="1093.7" y="635.3" font-size="29" text-anchor="middle" fill="#000">6.0</text>
<text x="945.7" y="666.1" font-size="29" text-anchor="middle" fill="#000">RT (min)</text>
</g>
<g id="pc">
<text x="1233" y="44.4" font-size="58" fill="#231f20">c</text>
<polyline points="1244.2,288.0 1245.2,288.0 1246.2,288.0 1247.2,288.0 1248.2,288.0 1249.2,288.0 1250.2,288.0 1251.2,288.0 1252.2,288.0 1253.2,288.0 1254.2,288.0 1255.2,287.9 1256.2,287.9 1257.2,287.9 1258.2,287.9 1259.2,287.9 1260.2,287.9 1261.2,287.8 1262.2,287.8 1263.2,287.8 1264.2,287.7 1265.2,287.6 1266.2,287.5 1267.2,287.4 1268.2,287.2 1269.2,287.0 1270.2,286.8 1271.2,286.6 1272.2,286.5 1273.2,286.3 1274.2,286.3 1275.2,286.3 1276.2,286.3 1277.2,286.4 1278.2,286.5 1279.2,286.6 1280.2,286.7 1281.2,286.8 1282.2,286.8 1283.2,286.8 1284.2,286.7 1285.2,286.6 1286.2,286.5 1287.2,286.4 1288.2,286.2 1289.2,286.0 1290.2,285.8 1291.2,285.5 1292.2,285.2 1293.2,284.8 1294.2,284.3 1295.2,283.5 1296.2,282.4 1297.2,280.6 1298.2,277.8 1299.2,273.6 1300.2,267.2 1301.2,258.0 1302.2,245.3 1303.2,228.6 1304.2,207.7 1305.2,183.1 1306.2,156.0 1307.2,128.4 1308.2,103.0 1309.2,83.0 1310.2,71.9 1311.2,71.9 1312.2,83.0 1313.2,103.0 1314.2,128.4 1315.2,156.0 1316.2,183.1 1317.2,207.7 1318.2,228.6 1319.2,245.3 1320.2,258.0 1321.2,267.2 1322.2,273.6 1323.2,277.8 1324.2,280.6 1325.2,282.4 1326.2,283.5 1327.2,284.3 1328.2,284.8 1329.2,285.2 1330.2,286.3 1331.2,286.6 1332.2,286.8 1333.2,287.0 1334.2,287.2 1335.2,287.3 1336.2,287.4 1337.2,287.6 1338.2,287.7 1339.2,287.8 1340.2,287.9 1341.2,287.9 1342.2,288.0 1343.2,288.1 1344.2,288.1 1345.2,288.2 1346.2,288.2 1347.2,288.3 1348.2,288.3 1349.2,288.4 1350.2,288.4 1351.2,288.4 1352.2,288.5 1353.2,288.5 1354.2,288.5 1355.2,288.5 1356.2,288.6 1357.2,288.6 1358.2,288.6 1359.2,288.6 1360.2,288.6 1361.2,288.7 1362.2,288.7 1363.2,288.7 1364.2,288.7 1365.2,288.7 1366.2,288.7 1367.2,288.8 1368.2,288.8 1369.2,288.8 1370.2,288.8 1371.2,288.8 1372.2,288.8 1373.2,288.8 1374.2,288.8 1375.2,288.8 1376.2,288.8 1377.2,288.8 1378.2,288.9 1379.2,288.9 1380.2,288.9 1381.2,288.9 1382.2,288.9 1383.2,288.9 1384.2,288.9 1385.2,288.9 1386.2,288.9 1387.2,288.9 1388.2,288.9 1389.2,288.9 1390.2,288.9" fill="none" stroke="#2fa866" stroke-width="2.8" stroke-linejoin="round" stroke-linecap="round"/>
<text x="1265.5" y="57.3" font-size="29" fill="#000">407.179</text>
<text x="1323.5" y="94.2" font-size="29" fill="#2fa866">standard</text>
<text x="1907.5" y="92.3" font-size="29" fill="#2fa866">standard</text>
<line x1="1242.2" y1="297.2" x2="1391.7" y2="297.2" stroke="#000" stroke-width="1.5"/>
<line x1="1242.9" y1="297.2" x2="1242.9" y2="303.2" stroke="#000" stroke-width="1.5"/>
<line x1="1292.2" y1="297.2" x2="1292.2" y2="303.2" stroke="#000" stroke-width="1.5"/>
<line x1="1341.7" y1="297.2" x2="1341.7" y2="303.2" stroke="#000" stroke-width="1.5"/>
<line x1="1391" y1="297.2" x2="1391" y2="303.2" stroke="#000" stroke-width="1.5"/>
<polyline points="1247.2,593.8 1248.2,593.8 1249.2,593.8 1250.2,593.8 1251.2,593.8 1252.2,593.8 1253.2,593.7 1254.2,593.7 1255.2,593.7 1256.2,593.7 1257.2,593.7 1258.2,593.7 1259.2,593.7 1260.2,593.7 1261.2,593.7 1262.2,593.7 1263.2,593.6 1264.2,593.6 1265.2,593.6 1266.2,593.6 1267.2,593.6 1268.2,593.6 1269.2,593.5 1270.2,593.5 1271.2,593.5 1272.2,593.5 1273.2,593.5 1274.2,593.4 1275.2,593.4 1276.2,593.4 1277.2,593.3 1278.2,593.3 1279.2,593.3 1280.2,593.2 1281.2,593.2 1282.2,593.1 1283.2,593.1 1284.2,593.0 1285.2,592.9 1286.2,592.8 1287.2,592.8 1288.2,592.7 1289.2,592.6 1290.2,592.4 1291.2,592.3 1292.2,592.2 1293.2,592.0 1294.2,591.8 1295.2,591.6 1296.2,591.3 1297.2,591.0 1298.2,590.5 1299.2,589.9 1300.2,589.1 1301.2,587.7 1302.2,585.5 1303.2,581.9 1304.2,576.4 1305.2,568.0 1306.2,556.0 1307.2,539.7 1308.2,518.7 1309.2,493.5 1310.2,465.5 1311.2,436.9 1312.2,411.0 1313.2,391.8 1314.2,383.1 1315.2,386.9 1316.2,402.3 1317.2,426.0 1318.2,454.0 1319.2,482.6 1320.2,509.1 1321.2,531.8 1322.2,550.0 1323.2,563.7 1324.2,573.4 1325.2,580.0 1326.2,584.2 1327.2,586.9 1328.2,588.0 1329.2,588.0 1330.2,590.3 1331.2,590.8 1332.2,591.0 1333.2,591.0 1334.2,591.0 1335.2,591.0 1336.2,592.1 1337.2,592.3 1338.2,592.4 1339.2,592.5 1340.2,592.6 1341.2,592.7 1342.2,592.8 1343.2,592.9 1344.2,588.5 1345.2,588.5 1346.2,588.5 1347.2,588.5 1348.2,588.5 1349.2,588.5 1350.2,588.5 1351.2,588.5 1352.2,593.3 1353.2,593.4 1354.2,593.4 1355.2,593.4 1356.2,593.5 1357.2,593.5 1358.2,593.5 1359.2,593.5 1360.2,593.6 1361.2,593.6 1362.2,593.6 1363.2,593.6 1364.2,593.6 1365.2,593.6 1366.2,593.7 1367.2,593.7 1368.2,593.7 1369.2,593.7 1370.2,593.7 1371.2,593.7 1372.2,593.7 1373.2,593.7 1374.2,593.7 1375.2,593.7 1376.2,593.8 1377.2,593.8 1378.2,593.8 1379.2,593.8 1380.2,593.8 1381.2,593.8 1382.2,593.8 1383.2,593.8 1384.2,593.8 1385.2,593.8 1386.2,593.8 1387.2,593.8 1388.2,593.8 1389.2,593.8 1390.2,593.8 1391.2,593.8 1392.2,593.8" fill="none" stroke="#e8393c" stroke-width="1.6" stroke-linejoin="round" stroke-linecap="round"/>
<text x="1269" y="373.7" font-size="29" fill="#000">407.171</text>
<text x="1329.5" y="416" font-size="29" fill="#e8393c">WT</text>
<text x="1911" y="402.1" font-size="29" fill="#e8393c">WT</text>
<line x1="1246.5" y1="598.2" x2="1395.7" y2="598.2" stroke="#000" stroke-width="1.5"/>
<line x1="1247.2" y1="598.2" x2="1247.2" y2="604" stroke="#000" stroke-width="1.5"/>
<line x1="1296.9" y1="598.2" x2="1296.9" y2="604" stroke="#000" stroke-width="1.5"/>
<line x1="1346.7" y1="598.2" x2="1346.7" y2="604" stroke="#000" stroke-width="1.5"/>
<line x1="1395" y1="598.2" x2="1395" y2="604" stroke="#000" stroke-width="1.5"/>
<text x="1279" y="632.5" font-size="29" text-anchor="end" fill="#000">406.9</text>
<text x="1353.5" y="632.5" font-size="29" fill="#000">407.5</text>
<text x="1296" y="659.5" font-size="29" font-style="italic" fill="#000">m/z</text>
<text x="1731.5" y="659.6" font-size="29" font-style="italic" fill="#000">m/z</text>
<text x="1505.2" y="632.8" font-size="29" text-anchor="middle" fill="#000">100</text>
<text x="1672.2" y="632.8" font-size="29" text-anchor="middle" fill="#000">200</text>
<text x="1837.6" y="632.8" font-size="29" text-anchor="middle" fill="#000">300</text>
<text x="2002.7" y="632.8" font-size="29" text-anchor="middle" fill="#000">400</text>
<path d="M1414.4,297.8L1414.4,295.9L1415.5,296.7L1416.7,296.6L1418.1,296.0L1419.1,295.6L1419.9,296.1L1421.4,296.3L1422.2,296.0L1423.1,294.1L1424.2,296.4L1425.3,296.3L1426.5,296.2L1428.0,295.3L1429.0,297.0L1430.0,295.6L1431.4,296.3L1432.8,297.0L1434.3,297.0L1435.8,296.7L1437.1,296.8L1438.0,295.8L1438.8,295.0L1439.7,295.5L1440.9,296.4L1441.8,296.9L1442.7,296.5L1443.7,296.7L1444.7,294.6L1445.6,295.6L1446.5,295.9L1447.5,296.9L1448.5,295.5L1449.3,296.4L1450.4,296.7L1451.9,295.8L1452.8,296.9L1454.2,296.7L1455.5,296.4L1456.5,295.2L1457.6,296.4L1458.4,296.4L1459.4,296.8L1460.6,296.8L1461.4,296.5L1462.6,296.3L1464.1,296.0L1464.9,294.9L1465.9,296.0L1466.8,295.8L1468.1,295.6L1469.3,293.1L1470.6,296.8L1471.4,296.3L1472.4,296.2L1473.3,295.6L1474.6,296.6L1476.0,296.3L1477.4,296.6L1478.5,296.5L1479.7,295.3L1480.9,296.7L1482.4,296.8L1483.7,295.9L1484.8,296.1L1485.7,297.0L1486.8,296.8L1488.1,295.8L1489.1,294.7L1490.4,296.8L1491.6,296.5L1493.1,296.4L1494.2,295.8L1495.6,296.4L1496.6,296.4L1497.8,296.1L1499.2,295.5L1500.2,296.3L1501.3,296.8L1502.4,296.3L1503.5,295.4L1504.3,296.8L1505.5,296.8L1506.9,296.5L1507.7,296.9L1508.7,296.8L1509.8,296.8L1511.0,296.2L1512.0,294.9L1512.9,296.0L1513.8,296.9L1514.9,296.6L1516.2,296.0L1517.6,296.7L1518.9,296.8L1520.0,295.6L1521.2,295.6L1522.5,296.1L1523.5,296.7L1524.9,296.1L1526.3,295.9L1527.8,295.5L1529.2,296.6L1530.3,296.2L1531.6,296.5L1532.4,296.9L1533.3,296.7L1534.7,296.7L1536.0,296.6L1537.3,296.0L1538.1,296.6L1539.3,296.6L1540.5,295.6L1541.7,296.7L1543.1,296.2L1544.5,295.9L1545.4,296.8L1546.6,296.8L1547.7,296.9L1549.1,296.0L1549.9,296.6L1551.0,295.0L1552.2,296.5L1553.3,296.2L1554.3,295.2L1555.5,296.6L1556.3,296.8L1557.3,296.7L1558.5,296.3L1559.8,296.2L1560.8,296.3L1561.9,296.3L1562.8,296.3L1564.0,296.3L1565.3,296.2L1566.2,296.9L1567.3,295.4L1568.7,296.4L1569.6,293.8L1570.9,297.0L1572.0,296.6L1572.9,293.9L1574.2,296.2L1575.6,296.2L1576.8,296.3L1577.7,293.7L1578.9,296.8L1579.8,296.8L1581.3,296.4L1582.1,295.0L1583.5,296.2L1584.6,296.1L1585.4,296.9L1586.8,296.6L1587.9,296.1L1588.8,296.8L1590.2,297.0L1591.6,296.4L1592.7,296.3L1594.1,296.9L1595.4,295.0L1596.5,295.5L1597.9,295.9L1598.9,296.9L1600.1,294.3L1601.3,296.5L1602.6,296.5L1603.8,296.0L1605.3,296.5L1606.6,293.8L1607.9,294.5L1609.0,296.4L1609.9,296.8L1611.3,296.0L1612.5,296.7L1613.8,296.9L1615.1,292.8L1616.0,296.5L1617.2,293.0L1618.3,295.8L1619.3,296.8L1620.5,296.7L1621.3,295.6L1622.2,296.2L1623.6,295.7L1624.4,294.8L1625.9,296.8L1627.0,296.3L1628.5,296.9L1629.6,295.4L1630.5,296.8L1631.6,296.9L1632.5,296.7L1633.7,296.3L1634.8,296.8L1636.0,294.8L1637.0,297.0L1638.4,296.7L1639.4,295.8L1640.6,295.9L1641.5,296.3L1643.0,293.8L1644.0,296.1L1645.2,296.1L1646.1,296.3L1647.3,296.4L1648.2,296.4L1649.5,296.8L1650.9,296.7L1652.3,296.8L1653.6,296.1L1654.9,296.2L1656.2,296.9L1657.3,296.7L1658.2,296.7L1659.3,295.6L1660.7,296.9L1661.6,296.8L1662.9,296.7L1663.9,296.5L1665.0,296.3L1666.3,295.2L1667.7,296.2L1669.1,296.7L1670.6,296.3L1671.5,296.4L1672.6,296.3L1673.5,295.5L1674.9,296.4L1675.9,296.9L1676.7,295.1L1677.8,294.9L1679.2,293.2L1680.6,296.7L1682.0,296.8L1683.2,296.1L1684.2,295.8L1685.5,295.5L1686.6,296.8L1687.8,295.9L1689.1,297.0L1690.2,296.4L1691.6,295.8L1693.0,295.8L1694.3,296.7L1695.4,296.6L1696.9,296.8L1697.8,296.7L1699.3,293.8L1700.2,296.1L1701.0,295.8L1702.2,296.8L1703.2,296.9L1704.1,296.8L1705.1,295.8L1706.0,297.0L1707.4,296.2L1708.3,295.5L1709.5,295.7L1710.7,296.9L1712.0,296.7L1713.2,296.3L1714.4,296.9L1715.3,296.1L1716.6,296.9L1717.5,296.6L1718.9,296.3L1720.1,296.3L1721.0,297.0L1721.8,296.2L1722.7,295.4L1724.0,296.2L1725.4,296.4L1726.9,296.5L1728.3,295.5L1729.7,296.7L1730.6,295.9L1731.6,296.9L1732.7,296.7L1733.8,296.8L1734.9,296.6L1736.3,296.9L1737.6,296.9L1738.8,296.9L1740.1,297.0L1741.4,296.8L1742.4,296.2L1743.4,296.7L1744.8,296.4L1746.2,295.7L1747.6,296.4L1748.5,295.9L1749.4,296.2L1750.8,296.7L1751.7,296.8L1752.8,295.2L1754.0,296.1L1755.3,296.6L1756.4,293.7L1757.7,295.4L1758.9,294.5L1759.9,296.8L1761.1,296.7L1762.5,296.6L1763.9,296.7L1765.0,296.5L1766.4,297.0L1767.7,296.7L1769.0,296.5L1769.8,297.0L1770.9,295.8L1771.9,296.5L1772.8,296.9L1774.0,295.9L1775.4,296.6L1776.8,296.6L1777.8,296.7L1778.8,295.5L1780.0,296.2L1780.8,295.9L1782.1,294.6L1783.3,296.9L1784.7,294.1L1785.8,296.4L1786.7,296.3L1787.7,296.3L1788.5,296.7L1789.4,295.8L1790.5,296.7L1791.8,296.9L1793.3,295.5L1794.7,296.2L1796.1,296.5L1797.3,295.2L1798.1,296.2L1799.6,296.9L1800.6,295.8L1801.4,296.3L1802.5,293.1L1803.7,296.9L1804.7,292.5L1806.1,296.1L1807.5,295.4L1808.8,295.2L1810.2,296.2L1811.3,297.0L1812.4,297.0L1813.2,295.7L1814.2,296.0L1815.1,295.1L1816.2,296.6L1817.7,296.4L1819.2,296.9L1820.1,296.6L1821.0,296.3L1822.5,296.6L1823.9,294.0L1825.2,296.3L1826.5,295.2L1827.8,296.1L1828.8,296.6L1830.1,296.8L1831.3,296.5L1832.4,296.0L1833.4,295.4L1834.8,296.6L1835.7,296.4L1836.8,292.9L1837.8,296.8L1839.1,296.4L1840.1,296.6L1841.3,296.3L1842.1,295.2L1843.5,295.4L1844.4,295.6L1845.6,296.2L1846.8,296.0L1848.2,296.6L1849.1,296.0L1850.0,296.5L1851.4,296.6L1852.7,296.9L1853.9,296.0L1854.7,295.8L1856.2,296.2L1857.1,296.0L1858.2,296.9L1859.5,295.2L1860.7,296.1L1861.7,294.2L1862.9,296.4L1863.9,296.7L1864.8,296.8L1865.7,296.4L1866.6,295.4L1867.6,293.8L1869.0,294.7L1869.9,293.5L1871.3,296.6L1872.4,296.7L1873.2,296.1L1874.5,296.9L1875.7,296.4L1876.8,296.2L1878.3,296.6L1879.1,293.6L1880.4,296.3L1881.6,296.2L1883.0,296.3L1884.4,296.8L1885.6,296.2L1886.5,296.8L1887.6,296.0L1888.9,296.6L1889.7,296.5L1890.8,297.0L1891.8,296.8L1893.2,296.8L1894.1,296.3L1895.2,296.9L1896.0,295.6L1897.1,295.4L1898.4,296.1L1899.2,294.6L1900.5,294.3L1901.6,296.5L1902.5,296.9L1903.8,296.6L1905.1,296.5L1906.2,296.6L1907.2,296.5L1908.1,295.7L1909.4,296.8L1910.4,296.0L1911.7,295.2L1913.2,296.6L1914.0,296.5L1915.1,296.2L1916.3,296.7L1917.2,296.2L1918.4,296.4L1919.3,296.5L1920.5,296.2L1921.7,296.9L1922.8,294.3L1923.6,295.8L1924.6,297.0L1925.4,295.9L1926.4,295.4L1927.4,295.8L1928.4,296.8L1929.9,296.8L1931.0,295.7L1931.9,296.1L1933.4,293.5L1934.5,296.7L1935.4,296.2L1936.4,293.9L1937.5,296.4L1938.6,296.3L1939.8,296.1L1941.3,296.6L1942.3,296.3L1943.6,296.1L1944.5,294.9L1945.7,296.2L1947.0,296.7L1947.9,297.0L1949.1,296.2L1949.9,296.6L1950.8,296.8L1952.2,296.5L1953.6,294.8L1954.7,296.7L1955.7,296.1L1956.7,296.2L1958.1,295.7L1959.2,296.7L1960.6,295.8L1961.6,296.7L1962.4,296.4L1963.9,296.5L1965.0,296.9L1966.1,291.3L1967.0,293.7L1968.3,296.5L1969.1,297.0L1970.2,296.5L1971.6,296.4L1972.7,295.9L1973.8,296.0L1974.9,296.8L1975.8,296.5L1976.8,296.5L1977.6,297.0L1978.5,296.5L1979.6,296.5L1980.6,296.7L1981.6,296.9L1982.6,293.9L1984.0,296.7L1985.1,293.8L1986.3,296.2L1987.3,295.3L1988.4,296.3L1989.7,296.9L1990.6,296.8L1991.7,297.0L1992.5,296.2L1994.0,295.9L1995.3,296.9L1996.4,296.4L1997.9,295.4L1999.3,295.9L2000.8,293.2L2001.7,296.3L2003.1,296.4L2004.4,296.6L2005.4,296.4L2006.4,297.0L2007,297.8 Z" fill="#000" stroke="#000" stroke-width="0.7"/>
<line x1="1414.4" y1="297.8" x2="2007.8" y2="297.8" stroke="#000" stroke-width="1.9"/>
<line x1="1421.8" y1="297.8" x2="1421.8" y2="303.1" stroke="#000" stroke-width="1.5"/>
<line x1="1430.1" y1="297.8" x2="1430.1" y2="301.0" stroke="#000" stroke-width="1.4"/>
<line x1="1438.5" y1="297.8" x2="1438.5" y2="301.0" stroke="#000" stroke-width="1.4"/>
<line x1="1446.8" y1="297.8" x2="1446.8" y2="301.0" stroke="#000" stroke-width="1.4"/>
<line x1="1455.2" y1="297.8" x2="1455.2" y2="301.0" stroke="#000" stroke-width="1.4"/>
<line x1="1463.5" y1="297.8" x2="1463.5" y2="303.1" stroke="#000" stroke-width="1.5"/>
<line x1="1471.9" y1="297.8" x2="1471.9" y2="301.0" stroke="#000" stroke-width="1.4"/>
<line x1="1480.2" y1="297.8" x2="1480.2" y2="301.0" stroke="#000" stroke-width="1.4"/>
<line x1="1488.6" y1="297.8" x2="1488.6" y2="301.0" stroke="#000" stroke-width="1.4"/>
<line x1="1496.9" y1="297.8" x2="1496.9" y2="301.0" stroke="#000" stroke-width="1.4"/>
<line x1="1505.3" y1="297.8" x2="1505.3" y2="303.1" stroke="#000" stroke-width="1.5"/>
<line x1="1513.7" y1="297.8" x2="1513.7" y2="301.0" stroke="#000" stroke-width="1.4"/>
<line x1="1522.0" y1="297.8" x2="1522.0" y2="301.0" stroke="#000" stroke-width="1.4"/>
<line x1="1530.4" y1="297.8" x2="1530.4" y2="301.0" stroke="#000" stroke-width="1.4"/>
<line x1="1538.7" y1="297.8" x2="1538.7" y2="301.0" stroke="#000" stroke-width="1.4"/>
<line x1="1547.1" y1="297.8" x2="1547.1" y2="303.1" stroke="#000" stroke-width="1.5"/>
<line x1="1555.4" y1="297.8" x2="1555.4" y2="301.0" stroke="#000" stroke-width="1.4"/>
<line x1="1563.8" y1="297.8" x2="1563.8" y2="301.0" stroke="#000" stroke-width="1.4"/>
<line x1="1572.1" y1="297.8" x2="1572.1" y2="301.0" stroke="#000" stroke-width="1.4"/>
<line x1="1580.5" y1="297.8" x2="1580.5" y2="301.0" stroke="#000" stroke-width="1.4"/>
<line x1="1588.8" y1="297.8" x2="1588.8" y2="303.1" stroke="#000" stroke-width="1.5"/>
<line x1="1597.2" y1="297.8" x2="1597.2" y2="301.0" stroke="#000" stroke-width="1.4"/>
<line x1="1605.5" y1="297.8" x2="1605.5" y2="301.0" stroke="#000" stroke-width="1.4"/>
<line x1="1613.9" y1="297.8" x2="1613.9" y2="301.0" stroke="#000" stroke-width="1.4"/>
<line x1="1622.2" y1="297.8" x2="1622.2" y2="301.0" stroke="#000" stroke-width="1.4"/>
<line x1="1630.6" y1="297.8" x2="1630.6" y2="303.1" stroke="#000" stroke-width="1.5"/>
<line x1="1638.9" y1="297.8" x2="1638.9" y2="301.0" stroke="#000" stroke-width="1.4"/>
<line x1="1647.3" y1="297.8" x2="1647.3" y2="301.0" stroke="#000" stroke-width="1.4"/>
<line x1="1655.6" y1="297.8" x2="1655.6" y2="301.0" stroke="#000" stroke-width="1.4"/>
<line x1="1664.0" y1="297.8" x2="1664.0" y2="301.0" stroke="#000" stroke-width="1.4"/>
<line x1="1672.3" y1="297.8" x2="1672.3" y2="303.1" stroke="#000" stroke-width="1.5"/>
<line x1="1680.7" y1="297.8" x2="1680.7" y2="301.0" stroke="#000" stroke-width="1.4"/>
<line x1="1689.1" y1="297.8" x2="1689.1" y2="301.0" stroke="#000" stroke-width="1.4"/>
<line x1="1697.4" y1="297.8" x2="1697.4" y2="301.0" stroke="#000" stroke-width="1.4"/>
<line x1="1705.8" y1="297.8" x2="1705.8" y2="301.0" stroke="#000" stroke-width="1.4"/>
<line x1="1714.1" y1="297.8" x2="1714.1" y2="303.1" stroke="#000" stroke-width="1.5"/>
<line x1="1722.5" y1="297.8" x2="1722.5" y2="301.0" stroke="#000" stroke-width="1.4"/>
<line x1="1730.8" y1="297.8" x2="1730.8" y2="301.0" stroke="#000" stroke-width="1.4"/>
<line x1="1739.2" y1="297.8" x2="1739.2" y2="301.0" stroke="#000" stroke-width="1.4"/>
<line x1="1747.5" y1="297.8" x2="1747.5" y2="301.0" stroke="#000" stroke-width="1.4"/>
<line x1="1755.9" y1="297.8" x2="1755.9" y2="303.1" stroke="#000" stroke-width="1.5"/>
<line x1="1764.2" y1="297.8" x2="1764.2" y2="301.0" stroke="#000" stroke-width="1.4"/>
<line x1="1772.6" y1="297.8" x2="1772.6" y2="301.0" stroke="#000" stroke-width="1.4"/>
<line x1="1780.9" y1="297.8" x2="1780.9" y2="301.0" stroke="#000" stroke-width="1.4"/>
<line x1="1789.3" y1="297.8" x2="1789.3" y2="301.0" stroke="#000" stroke-width="1.4"/>
<line x1="1797.6" y1="297.8" x2="1797.6" y2="303.1" stroke="#000" stroke-width="1.5"/>
<line x1="1806.0" y1="297.8" x2="1806.0" y2="301.0" stroke="#000" stroke-width="1.4"/>
<line x1="1814.3" y1="297.8" x2="1814.3" y2="301.0" stroke="#000" stroke-width="1.4"/>
<line x1="1822.7" y1="297.8" x2="1822.7" y2="301.0" stroke="#000" stroke-width="1.4"/>
<line x1="1831.0" y1="297.8" x2="1831.0" y2="301.0" stroke="#000" stroke-width="1.4"/>
<line x1="1839.4" y1="297.8" x2="1839.4" y2="303.1" stroke="#000" stroke-width="1.5"/>
<line x1="1847.8" y1="297.8" x2="1847.8" y2="301.0" stroke="#000" stroke-width="1.4"/>
<line x1="1856.1" y1="297.8" x2="1856.1" y2="301.0" stroke="#000" stroke-width="1.4"/>
<line x1="1864.5" y1="297.8" x2="1864.5" y2="301.0" stroke="#000" stroke-width="1.4"/>
<line x1="1872.8" y1="297.8" x2="1872.8" y2="301.0" stroke="#000" stroke-width="1.4"/>
<line x1="1881.2" y1="297.8" x2="1881.2" y2="303.1" stroke="#000" stroke-width="1.5"/>
<line x1="1889.5" y1="297.8" x2="1889.5" y2="301.0" stroke="#000" stroke-width="1.4"/>
<line x1="1897.9" y1="297.8" x2="1897.9" y2="301.0" stroke="#000" stroke-width="1.4"/>
<line x1="1906.2" y1="297.8" x2="1906.2" y2="301.0" stroke="#000" stroke-width="1.4"/>
<line x1="1914.6" y1="297.8" x2="1914.6" y2="301.0" stroke="#000" stroke-width="1.4"/>
<line x1="1922.9" y1="297.8" x2="1922.9" y2="303.1" stroke="#000" stroke-width="1.5"/>
<line x1="1931.3" y1="297.8" x2="1931.3" y2="301.0" stroke="#000" stroke-width="1.4"/>
<line x1="1939.6" y1="297.8" x2="1939.6" y2="301.0" stroke="#000" stroke-width="1.4"/>
<line x1="1948.0" y1="297.8" x2="1948.0" y2="301.0" stroke="#000" stroke-width="1.4"/>
<line x1="1956.3" y1="297.8" x2="1956.3" y2="301.0" stroke="#000" stroke-width="1.4"/>
<line x1="1964.7" y1="297.8" x2="1964.7" y2="303.1" stroke="#000" stroke-width="1.5"/>
<line x1="1973.0" y1="297.8" x2="1973.0" y2="301.0" stroke="#000" stroke-width="1.4"/>
<line x1="1981.4" y1="297.8" x2="1981.4" y2="301.0" stroke="#000" stroke-width="1.4"/>
<line x1="1989.7" y1="297.8" x2="1989.7" y2="301.0" stroke="#000" stroke-width="1.4"/>
<line x1="1998.1" y1="297.8" x2="1998.1" y2="301.0" stroke="#000" stroke-width="1.4"/>
<line x1="2006.5" y1="297.8" x2="2006.5" y2="303.1" stroke="#000" stroke-width="1.5"/>
<line x1="1517.0" y1="297.8" x2="1517.0" y2="161.0" stroke="#000" stroke-width="2.0"/>
<rect x="1517.00" y="271.81" width="2.80" height="25.99" fill="#000"/>
<rect x="1514.48" y="291.30" width="7.28" height="6.50" fill="#000"/>
<line x1="1540.4" y1="297.8" x2="1540.4" y2="215.4" stroke="#000" stroke-width="1.9"/>
<rect x="1540.40" y="287.09" width="2.40" height="10.71" fill="#000"/>
<rect x="1538.24" y="295.12" width="6.24" height="2.68" fill="#000"/>
<line x1="1547.1" y1="297.8" x2="1547.1" y2="263.8" stroke="#000" stroke-width="1.9"/>
<rect x="1547.10" y="293.72" width="3.00" height="4.08" fill="#000"/>
<rect x="1544.40" y="296.78" width="7.80" height="1.02" fill="#000"/>
<line x1="1570.0" y1="297.8" x2="1570.0" y2="173.7" stroke="#000" stroke-width="1.9"/>
<rect x="1570.00" y="285.39" width="3.00" height="12.41" fill="#000"/>
<rect x="1567.30" y="294.70" width="7.80" height="3.10" fill="#000"/>
<line x1="1573.8" y1="297.8" x2="1573.8" y2="160.2" stroke="#000" stroke-width="2.0"/>
<rect x="1573.80" y="282.66" width="3.20" height="15.14" fill="#000"/>
<rect x="1570.92" y="294.02" width="8.32" height="3.78" fill="#000"/>
<line x1="1617.3" y1="297.8" x2="1617.3" y2="43.9" stroke="#000" stroke-width="2.1"/>
<rect x="1617.30" y="273.68" width="2.60" height="24.12" fill="#000"/>
<rect x="1614.96" y="291.77" width="6.76" height="6.03" fill="#000"/>
<line x1="1818.1" y1="297.8" x2="1818.1" y2="198.4" stroke="#000" stroke-width="2.0"/>
<rect x="1818.10" y="278.91" width="3.00" height="18.89" fill="#000"/>
<rect x="1815.40" y="293.08" width="7.80" height="4.72" fill="#000"/>
<line x1="1846.3" y1="297.8" x2="1846.3" y2="211.3" stroke="#000" stroke-width="2.0"/>
<rect x="1846.30" y="280.50" width="2.80" height="17.30" fill="#000"/>
<rect x="1843.78" y="293.48" width="7.28" height="4.33" fill="#000"/>
<line x1="1945.4" y1="297.8" x2="1945.4" y2="178.5" stroke="#000" stroke-width="2.0"/>
<rect x="1945.40" y="273.94" width="2.80" height="23.86" fill="#000"/>
<rect x="1942.88" y="291.84" width="7.28" height="5.97" fill="#000"/>
<line x1="1438.6" y1="297.8" x2="1438.6" y2="279.2" stroke="#000" stroke-width="1.7"/>
<line x1="1473.1" y1="297.8" x2="1473.1" y2="284.0" stroke="#000" stroke-width="1.7"/>
<line x1="1471.0" y1="297.8" x2="1471.0" y2="289.0" stroke="#000" stroke-width="1.7"/>
<line x1="1496.8" y1="297.8" x2="1496.8" y2="286.2" stroke="#000" stroke-width="1.7"/>
<line x1="1526.9" y1="297.8" x2="1526.9" y2="287.0" stroke="#000" stroke-width="1.7"/>
<line x1="1525.0" y1="297.8" x2="1525.0" y2="291.0" stroke="#000" stroke-width="1.7"/>
<line x1="1560.6" y1="297.8" x2="1560.6" y2="279.5" stroke="#000" stroke-width="1.7"/>
<line x1="1596.9" y1="297.8" x2="1596.9" y2="285.9" stroke="#000" stroke-width="1.7"/>
<line x1="1624.2" y1="297.8" x2="1624.2" y2="286.2" stroke="#000" stroke-width="1.7"/>
<line x1="1643.9" y1="297.8" x2="1643.9" y2="286.0" stroke="#000" stroke-width="1.7"/>
<line x1="1646.5" y1="297.8" x2="1646.5" y2="291.0" stroke="#000" stroke-width="1.7"/>
<line x1="1694.2" y1="297.8" x2="1694.2" y2="286.2" stroke="#000" stroke-width="1.7"/>
<line x1="1715.8" y1="297.8" x2="1715.8" y2="288.9" stroke="#000" stroke-width="1.7"/>
<line x1="1717.8" y1="297.8" x2="1717.8" y2="291.0" stroke="#000" stroke-width="1.7"/>
<line x1="1747.5" y1="297.8" x2="1747.5" y2="278.7" stroke="#000" stroke-width="1.7"/>
<line x1="1749.5" y1="297.8" x2="1749.5" y2="286.0" stroke="#000" stroke-width="1.7"/>
<line x1="1739.2" y1="297.8" x2="1739.2" y2="292.0" stroke="#000" stroke-width="1.7"/>
<line x1="1873.3" y1="297.8" x2="1873.3" y2="292.2" stroke="#000" stroke-width="1.7"/>
<line x1="1825.0" y1="297.8" x2="1825.0" y2="292.0" stroke="#000" stroke-width="1.7"/>
<line x1="1450.0" y1="297.8" x2="1450.0" y2="292.0" stroke="#000" stroke-width="1.7"/>
<line x1="1509.0" y1="297.8" x2="1509.0" y2="292.0" stroke="#000" stroke-width="1.7"/>
<line x1="1620.5" y1="297.8" x2="1620.5" y2="289.0" stroke="#000" stroke-width="1.7"/>
<line x1="1449.5" y1="297.8" x2="1449.5" y2="290.5" stroke="#000" stroke-width="1.7"/>
<path d="M1416.1,598.3L1416.1,595.5L1417.0,596.5L1418.1,597.0L1419.2,597.4L1420.3,597.1L1421.4,597.4L1422.7,597.3L1423.9,597.3L1425.1,596.7L1426.2,597.3L1427.5,597.3L1428.8,597.1L1429.9,597.1L1430.9,597.1L1431.8,595.0L1433.0,597.2L1434.1,597.0L1435.4,597.0L1436.4,596.3L1437.8,596.5L1439.0,596.4L1439.9,596.9L1440.7,597.3L1442.0,597.4L1443.4,596.4L1444.7,597.1L1446.2,597.1L1447.3,597.1L1448.7,596.9L1449.9,597.3L1451.1,597.2L1452.5,596.9L1453.6,596.2L1454.8,596.5L1456.1,596.9L1457.1,596.4L1458.5,596.4L1459.4,597.1L1460.4,595.9L1461.9,596.9L1463.0,596.9L1464.2,597.3L1465.5,596.6L1466.4,597.5L1467.3,597.3L1468.4,597.0L1469.7,596.1L1470.9,597.3L1471.9,597.2L1473.3,597.3L1474.7,596.9L1475.7,596.4L1476.7,596.7L1477.8,597.3L1478.9,596.8L1479.8,597.3L1480.8,596.9L1481.9,596.6L1483.1,595.8L1484.5,596.9L1486.0,597.3L1487.0,597.3L1487.9,597.3L1488.9,597.2L1489.9,595.7L1490.9,596.6L1492.3,597.4L1493.2,597.3L1494.3,597.2L1495.7,596.4L1496.9,597.3L1498.3,597.1L1499.4,597.0L1500.8,596.4L1501.9,596.6L1502.9,596.3L1504.4,597.0L1505.7,597.4L1506.5,596.4L1507.7,596.6L1508.8,596.8L1510.2,597.2L1511.3,597.5L1512.4,596.7L1513.8,595.4L1515.0,596.4L1516.2,595.3L1517.3,592.7L1518.4,594.8L1519.9,597.3L1521.2,597.1L1522.4,593.9L1523.6,594.4L1524.5,597.4L1525.5,596.4L1526.6,596.5L1527.7,596.8L1528.8,597.4L1530.2,593.4L1531.4,595.3L1532.3,596.7L1533.2,595.5L1534.7,596.2L1535.5,596.4L1536.8,596.3L1537.8,597.2L1539.3,596.4L1540.6,596.0L1541.5,597.3L1542.3,597.0L1543.2,597.5L1544.5,597.5L1545.7,597.1L1547.1,596.3L1548.3,595.6L1549.7,597.3L1550.7,596.9L1551.7,596.4L1553.0,597.2L1554.5,597.1L1555.6,595.9L1556.8,597.4L1558.2,597.0L1559.5,595.9L1560.8,595.6L1561.9,596.9L1562.9,594.9L1563.7,597.5L1564.8,596.8L1566.0,596.8L1566.8,595.2L1568.1,596.0L1569.3,596.5L1570.2,596.3L1571.1,597.4L1572.2,596.5L1573.3,595.9L1574.5,597.3L1575.9,596.7L1576.7,595.9L1578.0,597.4L1579.4,597.1L1580.8,596.3L1581.7,597.1L1582.9,595.3L1584.1,597.2L1585.6,596.3L1586.7,596.6L1587.6,596.7L1588.4,597.4L1589.5,596.1L1590.9,596.8L1591.8,597.0L1592.9,597.1L1593.8,596.4L1594.8,596.8L1596.3,596.5L1597.2,595.2L1598.5,597.4L1599.7,596.7L1600.6,596.9L1601.4,595.2L1602.3,595.8L1603.2,596.8L1604.2,596.2L1605.5,596.9L1606.9,597.3L1607.9,595.6L1609.3,597.2L1610.7,596.1L1611.9,596.5L1613.3,597.2L1614.5,597.3L1615.4,591.9L1616.6,595.4L1617.9,595.8L1618.9,597.0L1620.0,597.4L1620.9,594.7L1622.4,596.6L1623.3,597.2L1624.5,596.9L1625.5,597.0L1626.9,594.4L1627.9,597.5L1629.2,594.9L1630.2,596.2L1631.6,597.4L1633.0,597.2L1633.8,597.2L1634.7,596.0L1635.9,596.6L1637.2,597.2L1638.0,597.4L1639.3,597.5L1640.3,597.5L1641.1,597.4L1642.4,595.2L1643.8,597.1L1645.1,596.6L1646.4,596.5L1647.4,595.3L1648.4,593.7L1649.5,595.5L1650.7,597.0L1651.9,597.1L1653.0,597.2L1653.8,597.3L1654.9,596.2L1655.7,596.6L1656.7,597.5L1658.1,597.2L1659.0,596.5L1659.9,596.0L1661.3,595.2L1662.6,594.9L1663.7,597.4L1664.9,596.9L1666.1,596.2L1667.4,597.0L1668.8,596.4L1669.9,597.2L1671.4,596.8L1672.8,597.0L1674.1,593.7L1675.2,595.9L1676.4,594.0L1677.8,597.0L1678.7,596.9L1679.8,597.3L1681.0,597.5L1682.5,596.7L1683.5,597.4L1684.9,596.7L1686.2,596.4L1687.4,597.0L1688.6,596.2L1689.7,596.6L1690.7,597.0L1691.5,597.5L1692.4,594.5L1693.9,596.3L1695.0,596.5L1696.0,596.9L1697.3,597.4L1698.4,596.1L1699.3,596.4L1700.4,593.2L1701.6,595.6L1703.0,596.5L1704.2,596.8L1705.1,597.4L1706.3,596.5L1707.3,596.4L1708.2,596.9L1709.6,596.7L1710.7,597.1L1712.1,597.4L1713.2,596.8L1714.2,596.2L1715.4,596.9L1716.7,596.6L1717.9,597.1L1719.4,596.3L1720.8,597.1L1721.7,596.8L1722.8,597.2L1724.1,596.5L1725.3,595.8L1726.5,596.9L1727.6,596.3L1728.5,596.9L1729.3,596.7L1730.4,597.2L1731.4,596.8L1732.5,597.3L1733.4,596.5L1734.6,597.4L1736.1,596.8L1736.9,596.0L1738.3,596.0L1739.7,596.3L1740.8,597.0L1741.7,596.5L1742.6,595.1L1743.5,597.1L1744.5,596.5L1745.5,597.4L1746.5,595.5L1747.5,596.8L1748.7,597.5L1749.7,596.4L1750.5,597.2L1751.5,594.9L1752.6,597.0L1753.7,596.9L1754.6,596.8L1756.0,597.0L1757.1,597.3L1757.9,597.2L1759.0,596.4L1760.1,596.8L1761.2,597.5L1762.6,594.6L1763.6,597.5L1764.9,597.2L1765.8,597.4L1767.1,597.4L1768.6,596.6L1769.8,596.6L1771.2,595.4L1772.6,596.4L1773.6,596.1L1774.8,597.4L1776.0,597.4L1777.3,596.8L1778.5,597.5L1779.7,596.9L1780.7,595.8L1781.9,597.4L1782.9,597.4L1784.4,596.4L1785.2,597.3L1786.4,597.1L1787.5,596.5L1788.8,595.0L1789.6,597.0L1790.4,596.6L1791.4,597.4L1792.6,593.5L1793.7,596.4L1794.5,595.4L1795.8,597.2L1796.9,596.4L1798.4,597.3L1799.4,596.7L1800.6,596.8L1802.0,597.4L1803.3,597.0L1804.7,596.3L1805.7,597.5L1806.9,596.8L1807.7,596.9L1809.0,597.4L1810.1,596.9L1811.5,596.8L1812.4,597.0L1813.3,596.2L1814.4,595.9L1815.4,597.0L1816.3,596.8L1817.5,596.1L1818.3,597.1L1819.8,597.0L1820.9,597.1L1822.2,596.9L1823.0,597.1L1823.9,597.2L1825.0,596.7L1826.0,597.4L1827.0,597.4L1827.9,596.1L1828.7,597.2L1830.1,596.4L1831.3,597.3L1832.7,597.1L1833.5,593.3L1834.3,596.4L1835.7,596.3L1837.0,596.4L1838.4,597.1L1839.4,594.0L1840.7,596.5L1841.5,597.4L1842.7,596.6L1843.9,597.0L1845.2,596.5L1846.3,596.1L1847.4,597.5L1848.7,597.4L1850.1,595.8L1851.1,596.4L1852.3,597.2L1853.1,597.3L1854.3,595.8L1855.5,597.1L1856.4,594.8L1857.8,597.2L1858.6,597.0L1860.0,597.1L1861.1,596.5L1862.3,597.3L1863.5,596.5L1864.3,597.0L1865.5,597.0L1866.5,596.7L1867.7,596.5L1868.9,596.7L1870.4,597.4L1871.7,596.9L1873.0,595.9L1873.9,597.5L1874.8,597.2L1876.1,597.1L1877.3,596.9L1878.6,595.9L1879.4,597.3L1880.7,596.9L1881.8,596.4L1882.8,596.9L1883.9,596.6L1885.1,596.9L1886.4,596.7L1887.7,596.9L1888.8,596.4L1889.8,595.8L1890.7,596.8L1891.8,597.0L1893.1,596.3L1894.4,596.9L1895.2,596.7L1896.7,597.3L1897.9,596.9L1898.7,596.4L1899.5,596.2L1901.0,596.4L1902.1,596.6L1903.0,597.0L1904.2,593.4L1905.0,597.4L1906.1,597.3L1907.5,594.8L1908.7,595.2L1909.5,596.8L1910.8,595.9L1911.9,596.2L1912.8,596.4L1913.8,596.5L1914.6,596.7L1916.1,593.6L1917.4,596.6L1918.6,597.5L1919.8,597.4L1920.6,596.3L1921.5,596.9L1922.5,597.2L1923.5,597.3L1924.5,597.0L1925.9,595.8L1926.8,596.0L1927.8,597.1L1929.0,596.9L1930.0,597.1L1931.0,597.0L1931.9,596.8L1932.9,597.4L1934.2,597.2L1935.3,596.9L1936.3,597.4L1937.3,596.3L1938.2,596.3L1939.1,595.8L1940.6,596.9L1941.7,596.8L1943.2,596.4L1944.5,597.4L1945.8,597.0L1947.0,597.4L1948.2,597.1L1949.2,596.9L1950.3,597.4L1951.7,596.0L1952.8,596.5L1953.8,597.3L1955.2,597.5L1956.2,596.6L1957.5,596.6L1958.5,596.9L1959.8,596.6L1960.9,596.5L1962.2,596.0L1963.1,596.9L1964.5,596.3L1965.5,597.4L1966.4,597.4L1967.3,594.2L1968.8,596.9L1969.7,596.4L1970.8,596.4L1972.3,597.1L1973.4,596.5L1974.7,597.5L1975.9,597.5L1977.0,597.5L1978.1,597.3L1979.6,597.5L1980.6,597.3L1981.8,596.2L1982.8,596.4L1984.0,597.4L1984.9,596.3L1986.0,597.4L1987.2,597.3L1988.1,596.8L1989.6,596.9L1990.5,596.9L1992.0,596.6L1993.0,597.2L1994.3,595.8L1995.3,595.6L1996.2,596.5L1997.1,596.9L1998.5,597.2L1999.4,596.5L2000.8,597.2L2001.6,596.4L2002.7,596.6L2003.9,597.2L2005.1,597.1L2006.1,596.9L2007,598.3 Z" fill="#000" stroke="#000" stroke-width="0.7"/>
<line x1="1416.1" y1="598.3" x2="2008.31" y2="598.3" stroke="#000" stroke-width="1.9"/>
<line x1="1423.5" y1="598.3" x2="1423.5" y2="603.5999999999999" stroke="#000" stroke-width="1.5"/>
<line x1="1431.8" y1="598.3" x2="1431.8" y2="601.5" stroke="#000" stroke-width="1.4"/>
<line x1="1440.2" y1="598.3" x2="1440.2" y2="601.5" stroke="#000" stroke-width="1.4"/>
<line x1="1448.5" y1="598.3" x2="1448.5" y2="601.5" stroke="#000" stroke-width="1.4"/>
<line x1="1456.9" y1="598.3" x2="1456.9" y2="601.5" stroke="#000" stroke-width="1.4"/>
<line x1="1465.2" y1="598.3" x2="1465.2" y2="603.5999999999999" stroke="#000" stroke-width="1.5"/>
<line x1="1473.6" y1="598.3" x2="1473.6" y2="601.5" stroke="#000" stroke-width="1.4"/>
<line x1="1481.9" y1="598.3" x2="1481.9" y2="601.5" stroke="#000" stroke-width="1.4"/>
<line x1="1490.3" y1="598.3" x2="1490.3" y2="601.5" stroke="#000" stroke-width="1.4"/>
<line x1="1498.6" y1="598.3" x2="1498.6" y2="601.5" stroke="#000" stroke-width="1.4"/>
<line x1="1507.0" y1="598.3" x2="1507.0" y2="603.5999999999999" stroke="#000" stroke-width="1.5"/>
<line x1="1515.4" y1="598.3" x2="1515.4" y2="601.5" stroke="#000" stroke-width="1.4"/>
<line x1="1523.7" y1="598.3" x2="1523.7" y2="601.5" stroke="#000" stroke-width="1.4"/>
<line x1="1532.1" y1="598.3" x2="1532.1" y2="601.5" stroke="#000" stroke-width="1.4"/>
<line x1="1540.4" y1="598.3" x2="1540.4" y2="601.5" stroke="#000" stroke-width="1.4"/>
<line x1="1548.8" y1="598.3" x2="1548.8" y2="603.5999999999999" stroke="#000" stroke-width="1.5"/>
<line x1="1557.1" y1="598.3" x2="1557.1" y2="601.5" stroke="#000" stroke-width="1.4"/>
<line x1="1565.5" y1="598.3" x2="1565.5" y2="601.5" stroke="#000" stroke-width="1.4"/>
<line x1="1573.8" y1="598.3" x2="1573.8" y2="601.5" stroke="#000" stroke-width="1.4"/>
<line x1="1582.2" y1="598.3" x2="1582.2" y2="601.5" stroke="#000" stroke-width="1.4"/>
<line x1="1590.5" y1="598.3" x2="1590.5" y2="603.5999999999999" stroke="#000" stroke-width="1.5"/>
<line x1="1598.9" y1="598.3" x2="1598.9" y2="601.5" stroke="#000" stroke-width="1.4"/>
<line x1="1607.2" y1="598.3" x2="1607.2" y2="601.5" stroke="#000" stroke-width="1.4"/>
<line x1="1615.6" y1="598.3" x2="1615.6" y2="601.5" stroke="#000" stroke-width="1.4"/>
<line x1="1623.9" y1="598.3" x2="1623.9" y2="601.5" stroke="#000" stroke-width="1.4"/>
<line x1="1632.3" y1="598.3" x2="1632.3" y2="603.5999999999999" stroke="#000" stroke-width="1.5"/>
<line x1="1640.6" y1="598.3" x2="1640.6" y2="601.5" stroke="#000" stroke-width="1.4"/>
<line x1="1649.0" y1="598.3" x2="1649.0" y2="601.5" stroke="#000" stroke-width="1.4"/>
<line x1="1657.3" y1="598.3" x2="1657.3" y2="601.5" stroke="#000" stroke-width="1.4"/>
<line x1="1665.7" y1="598.3" x2="1665.7" y2="601.5" stroke="#000" stroke-width="1.4"/>
<line x1="1674.0" y1="598.3" x2="1674.0" y2="603.5999999999999" stroke="#000" stroke-width="1.5"/>
<line x1="1682.4" y1="598.3" x2="1682.4" y2="601.5" stroke="#000" stroke-width="1.4"/>
<line x1="1690.8" y1="598.3" x2="1690.8" y2="601.5" stroke="#000" stroke-width="1.4"/>
<line x1="1699.1" y1="598.3" x2="1699.1" y2="601.5" stroke="#000" stroke-width="1.4"/>
<line x1="1707.5" y1="598.3" x2="1707.5" y2="601.5" stroke="#000" stroke-width="1.4"/>
<line x1="1715.8" y1="598.3" x2="1715.8" y2="603.5999999999999" stroke="#000" stroke-width="1.5"/>
<line x1="1724.2" y1="598.3" x2="1724.2" y2="601.5" stroke="#000" stroke-width="1.4"/>
<line x1="1732.5" y1="598.3" x2="1732.5" y2="601.5" stroke="#000" stroke-width="1.4"/>
<line x1="1740.9" y1="598.3" x2="1740.9" y2="601.5" stroke="#000" stroke-width="1.4"/>
<line x1="1749.2" y1="598.3" x2="1749.2" y2="601.5" stroke="#000" stroke-width="1.4"/>
<line x1="1757.6" y1="598.3" x2="1757.6" y2="603.5999999999999" stroke="#000" stroke-width="1.5"/>
<line x1="1765.9" y1="598.3" x2="1765.9" y2="601.5" stroke="#000" stroke-width="1.4"/>
<line x1="1774.3" y1="598.3" x2="1774.3" y2="601.5" stroke="#000" stroke-width="1.4"/>
<line x1="1782.6" y1="598.3" x2="1782.6" y2="601.5" stroke="#000" stroke-width="1.4"/>
<line x1="1791.0" y1="598.3" x2="1791.0" y2="601.5" stroke="#000" stroke-width="1.4"/>
<line x1="1799.3" y1="598.3" x2="1799.3" y2="603.5999999999999" stroke="#000" stroke-width="1.5"/>
<line x1="1807.7" y1="598.3" x2="1807.7" y2="601.5" stroke="#000" stroke-width="1.4"/>
<line x1="1816.0" y1="598.3" x2="1816.0" y2="601.5" stroke="#000" stroke-width="1.4"/>
<line x1="1824.4" y1="598.3" x2="1824.4" y2="601.5" stroke="#000" stroke-width="1.4"/>
<line x1="1832.7" y1="598.3" x2="1832.7" y2="601.5" stroke="#000" stroke-width="1.4"/>
<line x1="1841.1" y1="598.3" x2="1841.1" y2="603.5999999999999" stroke="#000" stroke-width="1.5"/>
<line x1="1849.5" y1="598.3" x2="1849.5" y2="601.5" stroke="#000" stroke-width="1.4"/>
<line x1="1857.8" y1="598.3" x2="1857.8" y2="601.5" stroke="#000" stroke-width="1.4"/>
<line x1="1866.2" y1="598.3" x2="1866.2" y2="601.5" stroke="#000" stroke-width="1.4"/>
<line x1="1874.5" y1="598.3" x2="1874.5" y2="601.5" stroke="#000" stroke-width="1.4"/>
<line x1="1882.9" y1="598.3" x2="1882.9" y2="603.5999999999999" stroke="#000" stroke-width="1.5"/>
<line x1="1891.2" y1="598.3" x2="1891.2" y2="601.5" stroke="#000" stroke-width="1.4"/>
<line x1="1899.6" y1="598.3" x2="1899.6" y2="601.5" stroke="#000" stroke-width="1.4"/>
<line x1="1907.9" y1="598.3" x2="1907.9" y2="601.5" stroke="#000" stroke-width="1.4"/>
<line x1="1916.3" y1="598.3" x2="1916.3" y2="601.5" stroke="#000" stroke-width="1.4"/>
<line x1="1924.6" y1="598.3" x2="1924.6" y2="603.5999999999999" stroke="#000" stroke-width="1.5"/>
<line x1="1933.0" y1="598.3" x2="1933.0" y2="601.5" stroke="#000" stroke-width="1.4"/>
<line x1="1941.3" y1="598.3" x2="1941.3" y2="601.5" stroke="#000" stroke-width="1.4"/>
<line x1="1949.7" y1="598.3" x2="1949.7" y2="601.5" stroke="#000" stroke-width="1.4"/>
<line x1="1958.0" y1="598.3" x2="1958.0" y2="601.5" stroke="#000" stroke-width="1.4"/>
<line x1="1966.4" y1="598.3" x2="1966.4" y2="603.5999999999999" stroke="#000" stroke-width="1.5"/>
<line x1="1974.7" y1="598.3" x2="1974.7" y2="601.5" stroke="#000" stroke-width="1.4"/>
<line x1="1983.1" y1="598.3" x2="1983.1" y2="601.5" stroke="#000" stroke-width="1.4"/>
<line x1="1991.4" y1="598.3" x2="1991.4" y2="601.5" stroke="#000" stroke-width="1.4"/>
<line x1="1999.8" y1="598.3" x2="1999.8" y2="601.5" stroke="#000" stroke-width="1.4"/>
<line x1="2008.2" y1="598.3" x2="2008.2" y2="603.5999999999999" stroke="#000" stroke-width="1.5"/>
<line x1="1518.7" y1="598.3" x2="1518.7" y2="446.7" stroke="#000" stroke-width="2.0"/>
<rect x="1518.70" y="569.50" width="2.80" height="28.80" fill="#000"/>
<rect x="1516.18" y="591.10" width="7.28" height="7.20" fill="#000"/>
<line x1="1541.9" y1="598.3" x2="1541.9" y2="514.6" stroke="#000" stroke-width="1.9"/>
<rect x="1541.90" y="591.19" width="2.60" height="7.11" fill="#000"/>
<rect x="1539.56" y="596.52" width="6.76" height="1.78" fill="#000"/>
<line x1="1548.9" y1="598.3" x2="1548.9" y2="560.5" stroke="#000" stroke-width="1.9"/>
<rect x="1548.90" y="594.52" width="3.00" height="3.78" fill="#000"/>
<rect x="1546.20" y="597.35" width="7.80" height="0.94" fill="#000"/>
<line x1="1572.1" y1="598.3" x2="1572.1" y2="470.0" stroke="#000" stroke-width="1.9"/>
<rect x="1572.10" y="585.47" width="3.00" height="12.83" fill="#000"/>
<rect x="1569.40" y="595.09" width="7.80" height="3.21" fill="#000"/>
<line x1="1575.7" y1="598.3" x2="1575.7" y2="460.3" stroke="#000" stroke-width="2.0"/>
<rect x="1575.70" y="584.50" width="3.40" height="13.80" fill="#000"/>
<rect x="1572.64" y="594.85" width="8.84" height="3.45" fill="#000"/>
<line x1="1619.2" y1="598.3" x2="1619.2" y2="341.7" stroke="#000" stroke-width="2.1"/>
<rect x="1619.20" y="576.49" width="2.60" height="21.81" fill="#000"/>
<rect x="1616.86" y="592.85" width="6.76" height="5.45" fill="#000"/>
<line x1="1819.5" y1="598.3" x2="1819.5" y2="492.1" stroke="#000" stroke-width="2.0"/>
<rect x="1819.50" y="572.81" width="3.00" height="25.49" fill="#000"/>
<rect x="1816.80" y="591.93" width="7.80" height="6.37" fill="#000"/>
<line x1="1847.5" y1="598.3" x2="1847.5" y2="495.7" stroke="#000" stroke-width="2.0"/>
<rect x="1847.50" y="575.73" width="2.80" height="22.57" fill="#000"/>
<rect x="1844.98" y="592.66" width="7.28" height="5.64" fill="#000"/>
<line x1="1946.6" y1="598.3" x2="1946.6" y2="470.0" stroke="#000" stroke-width="2.0"/>
<rect x="1946.60" y="563.66" width="2.80" height="34.64" fill="#000"/>
<rect x="1944.08" y="589.64" width="7.28" height="8.66" fill="#000"/>
<line x1="1440.9" y1="598.3" x2="1440.9" y2="574.0" stroke="#000" stroke-width="1.7"/>
<line x1="1474.0" y1="598.3" x2="1474.0" y2="587.3" stroke="#000" stroke-width="1.7"/>
<line x1="1451.0" y1="598.3" x2="1451.0" y2="593.0" stroke="#000" stroke-width="1.7"/>
<line x1="1499.1" y1="598.3" x2="1499.1" y2="586.4" stroke="#000" stroke-width="1.7"/>
<line x1="1502.0" y1="598.3" x2="1502.0" y2="590.0" stroke="#000" stroke-width="1.7"/>
<line x1="1496.0" y1="598.3" x2="1496.0" y2="592.0" stroke="#000" stroke-width="1.7"/>
<line x1="1527.0" y1="598.3" x2="1527.0" y2="590.0" stroke="#000" stroke-width="1.7"/>
<line x1="1529.0" y1="598.3" x2="1529.0" y2="590.5" stroke="#000" stroke-width="1.7"/>
<line x1="1562.5" y1="598.3" x2="1562.5" y2="576.5" stroke="#000" stroke-width="1.7"/>
<line x1="1598.7" y1="598.3" x2="1598.7" y2="584.0" stroke="#000" stroke-width="1.7"/>
<line x1="1625.8" y1="598.3" x2="1625.8" y2="588.5" stroke="#000" stroke-width="1.7"/>
<line x1="1645.3" y1="598.3" x2="1645.3" y2="588.0" stroke="#000" stroke-width="1.7"/>
<line x1="1649.2" y1="598.3" x2="1649.2" y2="588.0" stroke="#000" stroke-width="1.7"/>
<line x1="1652.0" y1="598.3" x2="1652.0" y2="592.0" stroke="#000" stroke-width="1.7"/>
<line x1="1695.7" y1="598.3" x2="1695.7" y2="590.2" stroke="#000" stroke-width="1.7"/>
<line x1="1691.0" y1="598.3" x2="1691.0" y2="593.5" stroke="#000" stroke-width="1.7"/>
<line x1="1717.1" y1="598.3" x2="1717.1" y2="586.9" stroke="#000" stroke-width="1.7"/>
<line x1="1719.5" y1="598.3" x2="1719.5" y2="590.5" stroke="#000" stroke-width="1.7"/>
<line x1="1748.8" y1="598.3" x2="1748.8" y2="578.1" stroke="#000" stroke-width="1.7"/>
<line x1="1750.8" y1="598.3" x2="1750.8" y2="589.0" stroke="#000" stroke-width="1.7"/>
<line x1="1874.1" y1="598.3" x2="1874.1" y2="593.8" stroke="#000" stroke-width="1.7"/>
<line x1="1790.0" y1="598.3" x2="1790.0" y2="594.0" stroke="#000" stroke-width="1.7"/>
<line x1="1921.0" y1="598.3" x2="1921.0" y2="594.5" stroke="#000" stroke-width="1.7"/>
<line x1="1535.5" y1="598.3" x2="1535.5" y2="592.5" stroke="#000" stroke-width="1.7"/>
<line x1="1452.5" y1="598.3" x2="1452.5" y2="592.0" stroke="#000" stroke-width="1.7"/>
<text x="1507.5" y="164.2" font-size="24.6" text-anchor="end" fill="#000">107.0551</text>
<text x="1612" y="134.6" font-size="24.6" text-anchor="end" fill="#000">141.0462</text>
<text x="1626.5" y="53.8" font-size="24.6" fill="#000">167.0239</text>
<text x="1819.8" y="191.2" font-size="24.6" text-anchor="end" fill="#000">287.0819</text>
<text x="1836.5" y="197.9" font-size="24.6" fill="#000">304.1140</text>
<text x="2027.5" y="164.2" font-size="24.6" text-anchor="end" fill="#000">363.1862</text>
<text x="1511.3" y="451.3" font-size="24.6" text-anchor="end" fill="#000">107.0596</text>
<text x="1614.7" y="432.5" font-size="24.6" text-anchor="end" fill="#000">141.0462</text>
<text x="1629.3" y="351.1" font-size="24.6" fill="#000">167.0295</text>
<text x="1820.8" y="485.1" font-size="24.6" text-anchor="end" fill="#000">287.0819</text>
<text x="1838.6" y="485.1" font-size="24.6" fill="#000">304.1140</text>
<text x="2028.2" y="453.7" font-size="24.6" text-anchor="end" fill="#000">363.1862</text>
</g>
<g id="pd">
<text x="-2" y="731.3" font-size="58" fill="#231f20">d</text>
<rect x="86.75" y="709.25" width="35.25" height="19.50" fill="#cacaca" stroke="#444" stroke-width="1"/>
<rect x="197.25" y="710.50" width="34.75" height="19.00" fill="#808080" stroke="#444" stroke-width="1"/>
<rect x="384.75" y="710.50" width="35.25" height="19.50" fill="#474747" stroke="#444" stroke-width="1"/>
<text x="140" y="728.8" font-size="29" fill="#231f20">WT</text>
<text x="245.5" y="728.8" font-size="29" fill="#231f20"><tspan font-family="Liberation Serif, serif" font-style="normal">Δ</tspan><tspan font-style="italic">egtUBC</tspan></text>
<text x="436.3" y="725.8" font-size="29" fill="#231f20"><tspan font-family="Liberation Serif, serif" font-style="normal">Δ</tspan><tspan font-style="italic">egtUBC</tspan></text>
<text x="436.3" y="760" font-size="29" fill="#231f20">repaired</text>
<rect x="136.75" y="928.50" width="34.00" height="203.50" fill="#cacaca" stroke="#2b2b2b" stroke-width="1.0"/>
<rect x="223.75" y="931.00" width="34.00" height="201.00" fill="#474747" stroke="#2b2b2b" stroke-width="1.0"/>
<rect x="281.00" y="803.00" width="34.50" height="329.00" fill="#cacaca" stroke="#2b2b2b" stroke-width="1.0"/>
<rect x="324.50" y="807.00" width="34.50" height="325.00" fill="#696969" stroke="#2b2b2b" stroke-width="1.0"/>
<rect x="368.00" y="807.50" width="34.00" height="324.50" fill="#474747" stroke="#2b2b2b" stroke-width="1.0"/>
<rect x="426.25" y="995.00" width="34.00" height="137.00" fill="#cacaca" stroke="#2b2b2b" stroke-width="1.0"/>
<rect x="469.25" y="991.75" width="34.00" height="140.25" fill="#696969" stroke="#2b2b2b" stroke-width="1.0"/>
<rect x="512.80" y="1004.30" width="33.90" height="127.70" fill="#474747" stroke="#2b2b2b" stroke-width="1.0"/>
<line x1="153.75" y1="920.00" x2="153.75" y2="938.00" stroke="#222" stroke-width="1.2"/>
<line x1="143.50" y1="920.00" x2="164.00" y2="920.00" stroke="#222" stroke-width="1.2"/>
<line x1="143.50" y1="938.00" x2="164.00" y2="938.00" stroke="#222" stroke-width="1.2"/>
<line x1="240.50" y1="920.50" x2="240.50" y2="944.25" stroke="#222" stroke-width="1.2"/>
<line x1="230.25" y1="920.50" x2="250.75" y2="920.50" stroke="#222" stroke-width="1.2"/>
<line x1="230.25" y1="944.25" x2="250.75" y2="944.25" stroke="#222" stroke-width="1.2"/>
<line x1="298.25" y1="797.50" x2="298.25" y2="809.50" stroke="#222" stroke-width="1.2"/>
<line x1="288.00" y1="797.50" x2="308.50" y2="797.50" stroke="#222" stroke-width="1.2"/>
<line x1="288.00" y1="809.50" x2="308.50" y2="809.50" stroke="#222" stroke-width="1.2"/>
<line x1="341.75" y1="798.50" x2="341.75" y2="816.50" stroke="#222" stroke-width="1.2"/>
<line x1="331.50" y1="798.50" x2="352.00" y2="798.50" stroke="#222" stroke-width="1.2"/>
<line x1="331.50" y1="816.50" x2="352.00" y2="816.50" stroke="#222" stroke-width="1.2"/>
<line x1="385.00" y1="796.75" x2="385.00" y2="821.75" stroke="#222" stroke-width="1.2"/>
<line x1="374.75" y1="796.75" x2="395.25" y2="796.75" stroke="#222" stroke-width="1.2"/>
<line x1="374.75" y1="821.75" x2="395.25" y2="821.75" stroke="#222" stroke-width="1.2"/>
<line x1="443.00" y1="985.00" x2="443.00" y2="1007.50" stroke="#222" stroke-width="1.2"/>
<line x1="432.75" y1="985.00" x2="453.25" y2="985.00" stroke="#222" stroke-width="1.2"/>
<line x1="432.75" y1="1007.50" x2="453.25" y2="1007.50" stroke="#222" stroke-width="1.2"/>
<line x1="486.25" y1="984.50" x2="486.25" y2="999.50" stroke="#222" stroke-width="1.2"/>
<line x1="476.00" y1="984.50" x2="496.50" y2="984.50" stroke="#222" stroke-width="1.2"/>
<line x1="476.00" y1="999.50" x2="496.50" y2="999.50" stroke="#222" stroke-width="1.2"/>
<line x1="529.70" y1="994.60" x2="529.70" y2="1016.00" stroke="#222" stroke-width="1.2"/>
<line x1="519.45" y1="994.60" x2="539.95" y2="994.60" stroke="#222" stroke-width="1.2"/>
<line x1="519.45" y1="1016.00" x2="539.95" y2="1016.00" stroke="#222" stroke-width="1.2"/>
<circle cx="141.75" cy="931.50" r="6.6" fill="#ff0000"/>
<circle cx="155.00" cy="914.50" r="6.6" fill="#ff0000"/>
<circle cx="168.25" cy="938.00" r="6.6" fill="#ff0000"/>
<circle cx="227.25" cy="915.00" r="6.6" fill="#ff0000"/>
<circle cx="240.50" cy="932.50" r="6.6" fill="#ff0000"/>
<circle cx="253.75" cy="947.00" r="6.6" fill="#ff0000"/>
<circle cx="285.00" cy="807.00" r="6.6" fill="#ff0000"/>
<circle cx="298.25" cy="793.75" r="6.6" fill="#ff0000"/>
<circle cx="311.75" cy="809.50" r="6.6" fill="#ff0000"/>
<circle cx="328.50" cy="808.75" r="6.6" fill="#ff0000"/>
<circle cx="342.00" cy="819.00" r="6.6" fill="#ff0000"/>
<circle cx="355.25" cy="794.00" r="6.6" fill="#ff0000"/>
<circle cx="371.75" cy="790.50" r="6.6" fill="#ff0000"/>
<circle cx="385.25" cy="812.00" r="6.6" fill="#ff0000"/>
<circle cx="398.50" cy="823.00" r="6.6" fill="#ff0000"/>
<circle cx="429.50" cy="998.00" r="6.6" fill="#ff0000"/>
<circle cx="443.00" cy="978.50" r="6.6" fill="#ff0000"/>
<circle cx="456.25" cy="1008.00" r="6.6" fill="#ff0000"/>
<circle cx="472.50" cy="1000.50" r="6.6" fill="#ff0000"/>
<circle cx="486.25" cy="993.00" r="6.6" fill="#ff0000"/>
<circle cx="499.50" cy="980.50" r="6.6" fill="#ff0000"/>
<circle cx="515.80" cy="989.00" r="6.6" fill="#ff0000"/>
<circle cx="529.70" cy="1003.80" r="6.6" fill="#ff0000"/>
<circle cx="542.90" cy="1017.80" r="6.6" fill="#ff0000"/>
<line x1="125" y1="782.5" x2="125" y2="1132" stroke="#444" stroke-width="1.2"/>
<line x1="118" y1="1132" x2="558.6" y2="1132" stroke="#444" stroke-width="1.2"/>
<line x1="117.5" y1="1132.00" x2="125" y2="1132.00" stroke="#444" stroke-width="1.2"/>
<line x1="121.7" y1="1107.54" x2="125" y2="1107.54" stroke="#444" stroke-width="1"/>
<line x1="121.7" y1="1093.23" x2="125" y2="1093.23" stroke="#444" stroke-width="1"/>
<line x1="121.7" y1="1083.08" x2="125" y2="1083.08" stroke="#444" stroke-width="1"/>
<line x1="121.7" y1="1075.21" x2="125" y2="1075.21" stroke="#444" stroke-width="1"/>
<line x1="121.7" y1="1068.78" x2="125" y2="1068.78" stroke="#444" stroke-width="1"/>
<line x1="121.7" y1="1063.34" x2="125" y2="1063.34" stroke="#444" stroke-width="1"/>
<line x1="121.7" y1="1058.62" x2="125" y2="1058.62" stroke="#444" stroke-width="1"/>
<line x1="121.7" y1="1054.47" x2="125" y2="1054.47" stroke="#444" stroke-width="1"/>
<line x1="117.5" y1="1050.75" x2="125" y2="1050.75" stroke="#444" stroke-width="1.2"/>
<line x1="121.7" y1="1026.29" x2="125" y2="1026.29" stroke="#444" stroke-width="1"/>
<line x1="121.7" y1="1011.98" x2="125" y2="1011.98" stroke="#444" stroke-width="1"/>
<line x1="121.7" y1="1001.83" x2="125" y2="1001.83" stroke="#444" stroke-width="1"/>
<line x1="121.7" y1="993.96" x2="125" y2="993.96" stroke="#444" stroke-width="1"/>
<line x1="121.7" y1="987.53" x2="125" y2="987.53" stroke="#444" stroke-width="1"/>
<line x1="121.7" y1="982.09" x2="125" y2="982.09" stroke="#444" stroke-width="1"/>
<line x1="121.7" y1="977.37" x2="125" y2="977.37" stroke="#444" stroke-width="1"/>
<line x1="121.7" y1="973.22" x2="125" y2="973.22" stroke="#444" stroke-width="1"/>
<line x1="117.5" y1="969.50" x2="125" y2="969.50" stroke="#444" stroke-width="1.2"/>
<line x1="121.7" y1="945.04" x2="125" y2="945.04" stroke="#444" stroke-width="1"/>
<line x1="121.7" y1="930.73" x2="125" y2="930.73" stroke="#444" stroke-width="1"/>
<line x1="121.7" y1="920.58" x2="125" y2="920.58" stroke="#444" stroke-width="1"/>
<line x1="121.7" y1="912.71" x2="125" y2="912.71" stroke="#444" stroke-width="1"/>
<line x1="121.7" y1="906.28" x2="125" y2="906.28" stroke="#444" stroke-width="1"/>
<line x1="121.7" y1="900.84" x2="125" y2="900.84" stroke="#444" stroke-width="1"/>
<line x1="121.7" y1="896.12" x2="125" y2="896.12" stroke="#444" stroke-width="1"/>
<line x1="121.7" y1="891.97" x2="125" y2="891.97" stroke="#444" stroke-width="1"/>
<line x1="117.5" y1="888.25" x2="125" y2="888.25" stroke="#444" stroke-width="1.2"/>
<line x1="121.7" y1="863.79" x2="125" y2="863.79" stroke="#444" stroke-width="1"/>
<line x1="121.7" y1="849.48" x2="125" y2="849.48" stroke="#444" stroke-width="1"/>
<line x1="121.7" y1="839.33" x2="125" y2="839.33" stroke="#444" stroke-width="1"/>
<line x1="121.7" y1="831.46" x2="125" y2="831.46" stroke="#444" stroke-width="1"/>
<line x1="121.7" y1="825.03" x2="125" y2="825.03" stroke="#444" stroke-width="1"/>
<line x1="121.7" y1="819.59" x2="125" y2="819.59" stroke="#444" stroke-width="1"/>
<line x1="121.7" y1="814.87" x2="125" y2="814.87" stroke="#444" stroke-width="1"/>
<line x1="121.7" y1="810.72" x2="125" y2="810.72" stroke="#444" stroke-width="1"/>
<line x1="117.5" y1="807.00" x2="125" y2="807.00" stroke="#444" stroke-width="1.2"/>
<line x1="121.7" y1="782.54" x2="125" y2="782.54" stroke="#444" stroke-width="1"/>
<text x="107.3" y="816.6" font-size="29" text-anchor="end" fill="#231f20">100</text>
<text x="107.3" y="897.3" font-size="29" text-anchor="end" fill="#231f20">10</text>
<text x="105.4" y="978" font-size="29" text-anchor="end" fill="#231f20">1</text>
<text x="105.4" y="1057.7" font-size="29" text-anchor="end" fill="#231f20">0.1</text>
<text x="104.5" y="1138.4" font-size="29" text-anchor="end" fill="#231f20">0.01</text>
<text x="41" y="943.5" font-size="29" text-anchor="middle" fill="#231f20" transform="rotate(-90 41 943.5)">nmol/mg protein</text>
<line x1="197.5" y1="1132" x2="197.5" y2="1139" stroke="#444" stroke-width="1.2"/>
<text x="197.5" y="1170" font-size="29" text-anchor="middle" fill="#231f20">ET</text>
<line x1="341.75" y1="1132" x2="341.75" y2="1139" stroke="#444" stroke-width="1.2"/>
<text x="341.75" y="1170" font-size="29" text-anchor="middle" fill="#231f20">GSH</text>
<line x1="486.25" y1="1132" x2="486.25" y2="1139" stroke="#444" stroke-width="1.2"/>
<text x="486.25" y="1170" font-size="29" text-anchor="middle" fill="#231f20">CYS</text>
<text x="198" y="1137.5" font-size="44" text-anchor="middle" fill="#000" font-weight="bold">*</text>
</g>
<g id="pe">
<text x="583" y="729.3" font-size="58" fill="#231f20">e</text>
<rect x="768.75" y="714.25" width="32.50" height="17.75" fill="#cacaca" stroke="#444" stroke-width="1"/>
<rect x="768.00" y="748.75" width="32.25" height="17.75" fill="#696969" stroke="#444" stroke-width="1"/>
<rect x="963.00" y="715.00" width="32.75" height="18.25" fill="#999999" stroke="#444" stroke-width="1"/>
<rect x="962.25" y="749.75" width="32.75" height="18.00" fill="#474747" stroke="#444" stroke-width="1"/>
<text x="815.5" y="732.3" font-size="29" fill="#231f20">0 μM ET</text>
<text x="815.5" y="766.5" font-size="29" fill="#231f20">0.5 μM</text>
<text x="1013" y="733.8" font-size="29" fill="#231f20">0.05 μM</text>
<text x="1013" y="768" font-size="29" fill="#231f20">5 μM</text>
<rect x="715.05" y="955.05" width="17.65" height="179.20" fill="#cacaca" stroke="#222" stroke-width="1.1"/>
<rect x="738.05" y="889.30" width="17.65" height="244.95" fill="#999999" stroke="#222" stroke-width="1.1"/>
<rect x="761.30" y="808.80" width="17.65" height="325.45" fill="#696969" stroke="#222" stroke-width="1.1"/>
<rect x="784.80" y="793.80" width="17.65" height="340.45" fill="#474747" stroke="#222" stroke-width="1.1"/>
<rect x="865.55" y="1049.30" width="17.65" height="84.95" fill="#696969" stroke="#222" stroke-width="1.1"/>
<rect x="888.55" y="1006.80" width="17.65" height="127.45" fill="#474747" stroke="#222" stroke-width="1.1"/>
<rect x="921.80" y="925.05" width="17.65" height="209.20" fill="#cacaca" stroke="#222" stroke-width="1.1"/>
<rect x="944.80" y="930.05" width="17.90" height="204.20" fill="#999999" stroke="#222" stroke-width="1.1"/>
<rect x="968.05" y="938.80" width="17.90" height="195.45" fill="#696969" stroke="#222" stroke-width="1.1"/>
<rect x="991.15" y="941.80" width="17.80" height="192.45" fill="#474747" stroke="#222" stroke-width="1.1"/>
<rect x="1024.05" y="944.05" width="17.90" height="190.20" fill="#cacaca" stroke="#222" stroke-width="1.1"/>
<rect x="1047.30" y="926.05" width="17.75" height="208.20" fill="#999999" stroke="#222" stroke-width="1.1"/>
<rect x="1070.55" y="924.05" width="17.65" height="210.20" fill="#696969" stroke="#222" stroke-width="1.1"/>
<rect x="1093.80" y="918.05" width="17.65" height="216.20" fill="#474747" stroke="#222" stroke-width="1.1"/>
<line x1="724.25" y1="944.50" x2="724.25" y2="971.50" stroke="#222" stroke-width="1.0"/>
<line x1="718.75" y1="944.50" x2="729.75" y2="944.50" stroke="#222" stroke-width="1.0"/>
<line x1="718.75" y1="971.50" x2="729.75" y2="971.50" stroke="#222" stroke-width="1.0"/>
<line x1="747.00" y1="883.75" x2="747.00" y2="894.25" stroke="#222" stroke-width="1.0"/>
<line x1="741.50" y1="883.75" x2="752.50" y2="883.75" stroke="#222" stroke-width="1.0"/>
<line x1="741.50" y1="894.25" x2="752.50" y2="894.25" stroke="#222" stroke-width="1.0"/>
<line x1="770.00" y1="806.75" x2="770.00" y2="810.50" stroke="#222" stroke-width="1.0"/>
<line x1="764.50" y1="806.75" x2="775.50" y2="806.75" stroke="#222" stroke-width="1.0"/>
<line x1="764.50" y1="810.50" x2="775.50" y2="810.50" stroke="#222" stroke-width="1.0"/>
<line x1="793.25" y1="785.75" x2="793.25" y2="803.25" stroke="#222" stroke-width="1.0"/>
<line x1="787.75" y1="785.75" x2="798.75" y2="785.75" stroke="#222" stroke-width="1.0"/>
<line x1="787.75" y1="803.25" x2="798.75" y2="803.25" stroke="#222" stroke-width="1.0"/>
<line x1="874.50" y1="1030.75" x2="874.50" y2="1106.25" stroke="#222" stroke-width="1.0"/>
<line x1="869.00" y1="1030.75" x2="880.00" y2="1030.75" stroke="#222" stroke-width="1.0"/>
<line x1="869.00" y1="1106.25" x2="880.00" y2="1106.25" stroke="#222" stroke-width="1.0"/>
<line x1="897.50" y1="1001.75" x2="897.50" y2="1012.00" stroke="#222" stroke-width="1.0"/>
<line x1="892.00" y1="1001.75" x2="903.00" y2="1001.75" stroke="#222" stroke-width="1.0"/>
<line x1="892.00" y1="1012.00" x2="903.00" y2="1012.00" stroke="#222" stroke-width="1.0"/>
<line x1="930.60" y1="916.25" x2="930.60" y2="938.00" stroke="#222" stroke-width="1.0"/>
<line x1="925.10" y1="916.25" x2="936.10" y2="916.25" stroke="#222" stroke-width="1.0"/>
<line x1="925.10" y1="938.00" x2="936.10" y2="938.00" stroke="#222" stroke-width="1.0"/>
<line x1="953.75" y1="918.25" x2="953.75" y2="948.25" stroke="#222" stroke-width="1.0"/>
<line x1="948.25" y1="918.25" x2="959.25" y2="918.25" stroke="#222" stroke-width="1.0"/>
<line x1="948.25" y1="948.25" x2="959.25" y2="948.25" stroke="#222" stroke-width="1.0"/>
<line x1="977.00" y1="928.00" x2="977.00" y2="954.50" stroke="#222" stroke-width="1.0"/>
<line x1="971.50" y1="928.00" x2="982.50" y2="928.00" stroke="#222" stroke-width="1.0"/>
<line x1="971.50" y1="954.50" x2="982.50" y2="954.50" stroke="#222" stroke-width="1.0"/>
<line x1="1000.00" y1="932.00" x2="1000.00" y2="955.50" stroke="#222" stroke-width="1.0"/>
<line x1="994.50" y1="932.00" x2="1005.50" y2="932.00" stroke="#222" stroke-width="1.0"/>
<line x1="994.50" y1="955.50" x2="1005.50" y2="955.50" stroke="#222" stroke-width="1.0"/>
<line x1="1033.00" y1="941.25" x2="1033.00" y2="945.00" stroke="#222" stroke-width="1.0"/>
<line x1="1027.50" y1="941.25" x2="1038.50" y2="941.25" stroke="#222" stroke-width="1.0"/>
<line x1="1027.50" y1="945.00" x2="1038.50" y2="945.00" stroke="#222" stroke-width="1.0"/>
<line x1="1056.25" y1="920.25" x2="1056.25" y2="932.75" stroke="#222" stroke-width="1.0"/>
<line x1="1050.75" y1="920.25" x2="1061.75" y2="920.25" stroke="#222" stroke-width="1.0"/>
<line x1="1050.75" y1="932.75" x2="1061.75" y2="932.75" stroke="#222" stroke-width="1.0"/>
<line x1="1079.25" y1="923.00" x2="1079.25" y2="924.50" stroke="#222" stroke-width="1.0"/>
<line x1="1073.75" y1="923.00" x2="1084.75" y2="923.00" stroke="#222" stroke-width="1.0"/>
<line x1="1073.75" y1="924.50" x2="1084.75" y2="924.50" stroke="#222" stroke-width="1.0"/>
<line x1="1102.50" y1="912.00" x2="1102.50" y2="924.25" stroke="#222" stroke-width="1.0"/>
<line x1="1097.00" y1="912.00" x2="1108.00" y2="912.00" stroke="#222" stroke-width="1.0"/>
<line x1="1097.00" y1="924.25" x2="1108.00" y2="924.25" stroke="#222" stroke-width="1.0"/>
<line x1="703.75" y1="773.25" x2="703.75" y2="1134.25" stroke="#000" stroke-width="1.1"/>
<line x1="697" y1="1134.25" x2="1133.5" y2="1134.25" stroke="#000" stroke-width="1.2"/>
<line x1="697" y1="1134.25" x2="703.75" y2="1134.25" stroke="#000" stroke-width="1.1"/>
<line x1="700.5" y1="1114.46" x2="703.75" y2="1114.46" stroke="#000" stroke-width="0.9"/>
<line x1="700.5" y1="1102.88" x2="703.75" y2="1102.88" stroke="#000" stroke-width="0.9"/>
<line x1="700.5" y1="1094.66" x2="703.75" y2="1094.66" stroke="#000" stroke-width="0.9"/>
<line x1="700.5" y1="1088.29" x2="703.75" y2="1088.29" stroke="#000" stroke-width="0.9"/>
<line x1="700.5" y1="1083.09" x2="703.75" y2="1083.09" stroke="#000" stroke-width="0.9"/>
<line x1="700.5" y1="1078.68" x2="703.75" y2="1078.68" stroke="#000" stroke-width="0.9"/>
<line x1="700.5" y1="1074.87" x2="703.75" y2="1074.87" stroke="#000" stroke-width="0.9"/>
<line x1="700.5" y1="1071.51" x2="703.75" y2="1071.51" stroke="#000" stroke-width="0.9"/>
<line x1="697" y1="1068.50" x2="703.75" y2="1068.50" stroke="#000" stroke-width="1.1"/>
<line x1="700.5" y1="1048.71" x2="703.75" y2="1048.71" stroke="#000" stroke-width="0.9"/>
<line x1="700.5" y1="1037.13" x2="703.75" y2="1037.13" stroke="#000" stroke-width="0.9"/>
<line x1="700.5" y1="1028.91" x2="703.75" y2="1028.91" stroke="#000" stroke-width="0.9"/>
<line x1="700.5" y1="1022.54" x2="703.75" y2="1022.54" stroke="#000" stroke-width="0.9"/>
<line x1="700.5" y1="1017.34" x2="703.75" y2="1017.34" stroke="#000" stroke-width="0.9"/>
<line x1="700.5" y1="1012.93" x2="703.75" y2="1012.93" stroke="#000" stroke-width="0.9"/>
<line x1="700.5" y1="1009.12" x2="703.75" y2="1009.12" stroke="#000" stroke-width="0.9"/>
<line x1="700.5" y1="1005.76" x2="703.75" y2="1005.76" stroke="#000" stroke-width="0.9"/>
<line x1="697" y1="1002.75" x2="703.75" y2="1002.75" stroke="#000" stroke-width="1.1"/>
<line x1="700.5" y1="982.96" x2="703.75" y2="982.96" stroke="#000" stroke-width="0.9"/>
<line x1="700.5" y1="971.38" x2="703.75" y2="971.38" stroke="#000" stroke-width="0.9"/>
<line x1="700.5" y1="963.16" x2="703.75" y2="963.16" stroke="#000" stroke-width="0.9"/>
<line x1="700.5" y1="956.79" x2="703.75" y2="956.79" stroke="#000" stroke-width="0.9"/>
<line x1="700.5" y1="951.59" x2="703.75" y2="951.59" stroke="#000" stroke-width="0.9"/>
<line x1="700.5" y1="947.18" x2="703.75" y2="947.18" stroke="#000" stroke-width="0.9"/>
<line x1="700.5" y1="943.37" x2="703.75" y2="943.37" stroke="#000" stroke-width="0.9"/>
<line x1="700.5" y1="940.01" x2="703.75" y2="940.01" stroke="#000" stroke-width="0.9"/>
<line x1="697" y1="937.00" x2="703.75" y2="937.00" stroke="#000" stroke-width="1.1"/>
<line x1="700.5" y1="917.21" x2="703.75" y2="917.21" stroke="#000" stroke-width="0.9"/>
<line x1="700.5" y1="905.63" x2="703.75" y2="905.63" stroke="#000" stroke-width="0.9"/>
<line x1="700.5" y1="897.41" x2="703.75" y2="897.41" stroke="#000" stroke-width="0.9"/>
<line x1="700.5" y1="891.04" x2="703.75" y2="891.04" stroke="#000" stroke-width="0.9"/>
<line x1="700.5" y1="885.84" x2="703.75" y2="885.84" stroke="#000" stroke-width="0.9"/>
<line x1="700.5" y1="881.43" x2="703.75" y2="881.43" stroke="#000" stroke-width="0.9"/>
<line x1="700.5" y1="877.62" x2="703.75" y2="877.62" stroke="#000" stroke-width="0.9"/>
<line x1="700.5" y1="874.26" x2="703.75" y2="874.26" stroke="#000" stroke-width="0.9"/>
<line x1="697" y1="871.25" x2="703.75" y2="871.25" stroke="#000" stroke-width="1.1"/>
<line x1="700.5" y1="851.46" x2="703.75" y2="851.46" stroke="#000" stroke-width="0.9"/>
<line x1="700.5" y1="839.88" x2="703.75" y2="839.88" stroke="#000" stroke-width="0.9"/>
<line x1="700.5" y1="831.66" x2="703.75" y2="831.66" stroke="#000" stroke-width="0.9"/>
<line x1="700.5" y1="825.29" x2="703.75" y2="825.29" stroke="#000" stroke-width="0.9"/>
<line x1="700.5" y1="820.09" x2="703.75" y2="820.09" stroke="#000" stroke-width="0.9"/>
<line x1="700.5" y1="815.68" x2="703.75" y2="815.68" stroke="#000" stroke-width="0.9"/>
<line x1="700.5" y1="811.87" x2="703.75" y2="811.87" stroke="#000" stroke-width="0.9"/>
<line x1="700.5" y1="808.51" x2="703.75" y2="808.51" stroke="#000" stroke-width="0.9"/>
<line x1="697" y1="805.50" x2="703.75" y2="805.50" stroke="#000" stroke-width="1.1"/>
<line x1="700.5" y1="785.71" x2="703.75" y2="785.71" stroke="#000" stroke-width="0.9"/>
<line x1="700.5" y1="774.13" x2="703.75" y2="774.13" stroke="#000" stroke-width="0.9"/>
<text x="684.1" y="813.9" font-size="29" text-anchor="end" fill="#231f20">10</text>
<text x="685.4" y="879.6" font-size="29" text-anchor="end" fill="#231f20">1</text>
<text x="682.3" y="945.4" font-size="29" text-anchor="end" fill="#231f20">0.1</text>
<text x="679.2" y="1011.1" font-size="29" text-anchor="end" fill="#231f20">0.01</text>
<text x="674.9" y="1076.9" font-size="29" text-anchor="end" fill="#231f20">0.001</text>
<text x="680.2" y="1142.7" font-size="29" text-anchor="end" fill="#231f20">1e-4</text>
<text x="610" y="913.6" font-size="29" text-anchor="middle" fill="#231f20" transform="rotate(-90 610 913.6)">nmol/mg protein</text>
<line x1="1120.75" y1="782.5" x2="1120.75" y2="1134.25" stroke="#6f7073" stroke-width="1.5"/>
<line x1="1120.75" y1="1134.25" x2="1133.5" y2="1134.25" stroke="#6f7073" stroke-width="1.3"/>
<line x1="1120.75" y1="1103.32" x2="1127" y2="1103.32" stroke="#6f7073" stroke-width="1.1"/>
<line x1="1120.75" y1="1086.87" x2="1127" y2="1086.87" stroke="#6f7073" stroke-width="1.1"/>
<line x1="1120.75" y1="1077.66" x2="1127" y2="1077.66" stroke="#6f7073" stroke-width="1.1"/>
<line x1="1120.75" y1="1070.21" x2="1127" y2="1070.21" stroke="#6f7073" stroke-width="1.1"/>
<line x1="1120.75" y1="1063.95" x2="1133.5" y2="1063.95" stroke="#6f7073" stroke-width="1.3"/>
<line x1="1120.75" y1="1033.02" x2="1127" y2="1033.02" stroke="#6f7073" stroke-width="1.1"/>
<line x1="1120.75" y1="1016.57" x2="1127" y2="1016.57" stroke="#6f7073" stroke-width="1.1"/>
<line x1="1120.75" y1="1007.36" x2="1127" y2="1007.36" stroke="#6f7073" stroke-width="1.1"/>
<line x1="1120.75" y1="999.91" x2="1127" y2="999.91" stroke="#6f7073" stroke-width="1.1"/>
<line x1="1120.75" y1="993.65" x2="1133.5" y2="993.65" stroke="#6f7073" stroke-width="1.3"/>
<line x1="1120.75" y1="962.72" x2="1127" y2="962.72" stroke="#6f7073" stroke-width="1.1"/>
<line x1="1120.75" y1="946.27" x2="1127" y2="946.27" stroke="#6f7073" stroke-width="1.1"/>
<line x1="1120.75" y1="937.06" x2="1127" y2="937.06" stroke="#6f7073" stroke-width="1.1"/>
<line x1="1120.75" y1="929.61" x2="1127" y2="929.61" stroke="#6f7073" stroke-width="1.1"/>
<line x1="1120.75" y1="923.35" x2="1133.5" y2="923.35" stroke="#6f7073" stroke-width="1.3"/>
<line x1="1120.75" y1="892.42" x2="1127" y2="892.42" stroke="#6f7073" stroke-width="1.1"/>
<line x1="1120.75" y1="875.97" x2="1127" y2="875.97" stroke="#6f7073" stroke-width="1.1"/>
<line x1="1120.75" y1="866.76" x2="1127" y2="866.76" stroke="#6f7073" stroke-width="1.1"/>
<line x1="1120.75" y1="859.31" x2="1127" y2="859.31" stroke="#6f7073" stroke-width="1.1"/>
<line x1="1120.75" y1="853.05" x2="1133.5" y2="853.05" stroke="#6f7073" stroke-width="1.3"/>
<line x1="1120.75" y1="822.12" x2="1127" y2="822.12" stroke="#6f7073" stroke-width="1.1"/>
<line x1="1120.75" y1="805.67" x2="1127" y2="805.67" stroke="#6f7073" stroke-width="1.1"/>
<line x1="1120.75" y1="796.46" x2="1127" y2="796.46" stroke="#6f7073" stroke-width="1.1"/>
<line x1="1120.75" y1="789.01" x2="1127" y2="789.01" stroke="#6f7073" stroke-width="1.1"/>
<line x1="1120.75" y1="782.75" x2="1133.5" y2="782.75" stroke="#6f7073" stroke-width="1.3"/>
<text x="1138.3" y="1142.8" font-size="29" fill="#6f7073">1e-4</text>
<text x="1138.3" y="1072.5" font-size="29" fill="#6f7073">0.001</text>
<text x="1138.3" y="1002.1" font-size="29" fill="#6f7073">0.01</text>
<text x="1138.3" y="931.9" font-size="29" fill="#6f7073">0.1</text>
<text x="1138.3" y="861.5" font-size="29" fill="#6f7073">1</text>
<text x="1138.3" y="791.2" font-size="29" fill="#6f7073">10</text>
<text x="1227.3" y="905" font-size="29" text-anchor="middle" fill="#6f7073" transform="rotate(-90 1227.3 905)">concentration (mM)</text>
<circle cx="717.50" cy="973.25" r="3.3" fill="#ff0000"/>
<circle cx="724.25" cy="950.00" r="3.3" fill="#ff0000"/>
<circle cx="730.75" cy="945.75" r="3.3" fill="#ff0000"/>
<circle cx="740.25" cy="883.50" r="3.3" fill="#ff0000"/>
<circle cx="747.00" cy="887.75" r="3.3" fill="#ff0000"/>
<circle cx="753.75" cy="894.00" r="3.3" fill="#ff0000"/>
<circle cx="763.25" cy="806.25" r="3.3" fill="#ff0000"/>
<circle cx="770.00" cy="811.75" r="3.3" fill="#ff0000"/>
<circle cx="776.75" cy="809.00" r="3.3" fill="#ff0000"/>
<circle cx="786.50" cy="802.50" r="3.3" fill="#ff0000"/>
<circle cx="793.25" cy="785.25" r="3.3" fill="#ff0000"/>
<circle cx="800.00" cy="795.50" r="3.3" fill="#ff0000"/>
<circle cx="867.00" cy="1035.00" r="3.3" fill="#ff0000"/>
<circle cx="880.50" cy="1037.00" r="3.3" fill="#ff0000"/>
<circle cx="874.50" cy="1133.75" r="3.3" fill="#ff0000"/>
<circle cx="890.75" cy="1009.25" r="3.3" fill="#ff0000"/>
<circle cx="897.50" cy="1008.00" r="3.3" fill="#ff0000"/>
<circle cx="904.25" cy="999.75" r="3.3" fill="#ff0000"/>
<circle cx="923.75" cy="934.25" r="3.3" fill="#ff0000"/>
<circle cx="930.50" cy="930.50" r="3.3" fill="#ff0000"/>
<circle cx="937.25" cy="915.50" r="3.3" fill="#ff0000"/>
<circle cx="947.00" cy="917.50" r="3.3" fill="#ff0000"/>
<circle cx="953.75" cy="945.00" r="3.3" fill="#ff0000"/>
<circle cx="960.50" cy="933.00" r="3.3" fill="#ff0000"/>
<circle cx="970.00" cy="928.25" r="3.3" fill="#ff0000"/>
<circle cx="977.00" cy="942.25" r="3.3" fill="#ff0000"/>
<circle cx="983.75" cy="952.75" r="3.3" fill="#ff0000"/>
<circle cx="993.00" cy="958.75" r="3.3" fill="#ff0000"/>
<circle cx="1000.00" cy="935.00" r="3.3" fill="#ff0000"/>
<circle cx="1006.75" cy="937.75" r="3.3" fill="#ff0000"/>
<circle cx="1025.75" cy="940.75" r="3.3" fill="#ff0000"/>
<circle cx="1032.75" cy="944.25" r="3.3" fill="#ff0000"/>
<circle cx="1039.50" cy="943.75" r="3.3" fill="#ff0000"/>
<circle cx="1049.50" cy="919.75" r="3.3" fill="#ff0000"/>
<circle cx="1056.25" cy="927.50" r="3.3" fill="#ff0000"/>
<circle cx="1063.25" cy="932.00" r="3.3" fill="#ff0000"/>
<circle cx="1072.50" cy="924.50" r="3.3" fill="#ff0000"/>
<circle cx="1079.25" cy="923.75" r="3.3" fill="#ff0000"/>
<circle cx="1086.25" cy="924.50" r="3.3" fill="#ff0000"/>
<circle cx="1095.75" cy="917.00" r="3.3" fill="#ff0000"/>
<circle cx="1102.50" cy="925.00" r="3.3" fill="#ff0000"/>
<circle cx="1109.50" cy="912.00" r="3.3" fill="#ff0000"/>
<text x="746" y="1180" font-size="29" text-anchor="middle" fill="#231f20">WT</text>
<text x="855.5" y="1180" font-size="29" text-anchor="middle" fill="#231f20"><tspan font-family="Liberation Serif, serif" font-style="normal">Δ</tspan><tspan font-style="italic">egtUBC</tspan></text>
<text x="966.5" y="1180" font-size="29" text-anchor="middle" fill="#231f20">WT</text>
<text x="1065.5" y="1180" font-size="29" text-anchor="middle" fill="#231f20"><tspan font-family="Liberation Serif, serif" font-style="normal">Δ</tspan><tspan font-style="italic">egtUBC</tspan></text>
<text x="809.3" y="1226.5" font-size="29" text-anchor="middle" fill="#231f20">ET</text>
<text x="1005.5" y="1226.5" font-size="29" text-anchor="middle" fill="#231f20">CYS</text>
<text x="843.8" y="1144.8" font-size="46" text-anchor="middle" fill="#000" font-weight="bold" letter-spacing="2.7">**</text>
</g>
<g id="pf">
<text x="1267.5" y="731.3" font-size="58" fill="#231f20">f</text>
<rect x="1299.75" y="714.75" width="32.25" height="18.00" fill="#cacaca" stroke="#444" stroke-width="1"/>
<rect x="1298.75" y="749.25" width="32.50" height="17.75" fill="#696969" stroke="#444" stroke-width="1"/>
<rect x="1543.50" y="715.50" width="32.25" height="18.25" fill="#999999" stroke="#444" stroke-width="1"/>
<rect x="1542.50" y="750.00" width="32.00" height="18.25" fill="#474747" stroke="#444" stroke-width="1"/>
<text x="1346.5" y="732.5" font-size="29" fill="#231f20">WT</text>
<text x="1345.5" y="768" font-size="29" font-style="italic" fill="#231f20">egtUA E161Q</text>
<text x="1593.5" y="733.8" font-size="29" font-style="italic" fill="#231f20">egtUA K40A</text>
<text x="1593.5" y="768" font-size="29" fill="#231f20"><tspan font-family="Liberation Serif, serif" font-style="normal">Δ</tspan><tspan font-style="italic">egtUA</tspan> repaired</text>
<rect x="1371.00" y="980.50" width="24.75" height="173.25" fill="#cacaca" stroke="#1f1f1f" stroke-width="1.0"/>
<rect x="1466.75" y="986.75" width="25.25" height="167.00" fill="#474747" stroke="#1f1f1f" stroke-width="1.0"/>
<rect x="1516.75" y="828.75" width="25.25" height="325.00" fill="#cacaca" stroke="#1f1f1f" stroke-width="1.0"/>
<rect x="1550.00" y="813.75" width="25.25" height="340.00" fill="#999999" stroke="#1f1f1f" stroke-width="1.0"/>
<rect x="1583.00" y="824.75" width="25.75" height="329.00" fill="#696969" stroke="#1f1f1f" stroke-width="1.0"/>
<rect x="1616.75" y="827.50" width="25.25" height="326.25" fill="#474747" stroke="#1f1f1f" stroke-width="1.0"/>
<rect x="1670.00" y="1053.50" width="25.75" height="100.25" fill="#cacaca" stroke="#1f1f1f" stroke-width="1.0"/>
<rect x="1703.75" y="1033.75" width="25.25" height="120.00" fill="#999999" stroke="#1f1f1f" stroke-width="1.0"/>
<rect x="1736.75" y="1053.50" width="25.75" height="100.25" fill="#696969" stroke="#1f1f1f" stroke-width="1.0"/>
<rect x="1770.50" y="1049.25" width="25.75" height="104.50" fill="#474747" stroke="#1f1f1f" stroke-width="1.0"/>
<line x1="1383.25" y1="974.50" x2="1383.25" y2="986.25" stroke="#000" stroke-width="1.8"/>
<line x1="1374.25" y1="974.50" x2="1392.25" y2="974.50" stroke="#000" stroke-width="1.8"/>
<line x1="1374.25" y1="986.25" x2="1392.25" y2="986.25" stroke="#000" stroke-width="1.8"/>
<line x1="1479.25" y1="978.75" x2="1479.25" y2="994.50" stroke="#000" stroke-width="1.8"/>
<line x1="1470.25" y1="978.75" x2="1488.25" y2="978.75" stroke="#000" stroke-width="1.8"/>
<line x1="1470.25" y1="994.50" x2="1488.25" y2="994.50" stroke="#000" stroke-width="1.8"/>
<line x1="1529.25" y1="821.25" x2="1529.25" y2="838.25" stroke="#000" stroke-width="1.8"/>
<line x1="1520.25" y1="821.25" x2="1538.25" y2="821.25" stroke="#000" stroke-width="1.8"/>
<line x1="1520.25" y1="838.25" x2="1538.25" y2="838.25" stroke="#000" stroke-width="1.8"/>
<line x1="1562.50" y1="801.75" x2="1562.50" y2="828.75" stroke="#000" stroke-width="1.8"/>
<line x1="1553.50" y1="801.75" x2="1571.50" y2="801.75" stroke="#000" stroke-width="1.8"/>
<line x1="1553.50" y1="828.75" x2="1571.50" y2="828.75" stroke="#000" stroke-width="1.8"/>
<line x1="1595.75" y1="818.25" x2="1595.75" y2="823.75" stroke="#000" stroke-width="1.8"/>
<line x1="1586.75" y1="818.25" x2="1604.75" y2="818.25" stroke="#000" stroke-width="1.8"/>
<line x1="1586.75" y1="823.75" x2="1604.75" y2="823.75" stroke="#000" stroke-width="1.8"/>
<line x1="1629.25" y1="820.00" x2="1629.25" y2="835.00" stroke="#000" stroke-width="1.8"/>
<line x1="1620.25" y1="820.00" x2="1638.25" y2="820.00" stroke="#000" stroke-width="1.8"/>
<line x1="1620.25" y1="835.00" x2="1638.25" y2="835.00" stroke="#000" stroke-width="1.8"/>
<line x1="1682.50" y1="1047.00" x2="1682.50" y2="1060.00" stroke="#000" stroke-width="1.8"/>
<line x1="1673.50" y1="1047.00" x2="1691.50" y2="1047.00" stroke="#000" stroke-width="1.8"/>
<line x1="1673.50" y1="1060.00" x2="1691.50" y2="1060.00" stroke="#000" stroke-width="1.8"/>
<line x1="1716.75" y1="1009.50" x2="1716.75" y2="1103.00" stroke="#000" stroke-width="1.8"/>
<line x1="1707.75" y1="1009.50" x2="1725.75" y2="1009.50" stroke="#000" stroke-width="1.8"/>
<line x1="1707.75" y1="1103.00" x2="1725.75" y2="1103.00" stroke="#000" stroke-width="1.8"/>
<line x1="1749.50" y1="1048.00" x2="1749.50" y2="1058.25" stroke="#000" stroke-width="1.8"/>
<line x1="1740.50" y1="1048.00" x2="1758.50" y2="1048.00" stroke="#000" stroke-width="1.8"/>
<line x1="1740.50" y1="1058.25" x2="1758.50" y2="1058.25" stroke="#000" stroke-width="1.8"/>
<line x1="1783.25" y1="1045.00" x2="1783.25" y2="1049.50" stroke="#000" stroke-width="1.8"/>
<line x1="1774.25" y1="1045.00" x2="1792.25" y2="1045.00" stroke="#000" stroke-width="1.8"/>
<line x1="1774.25" y1="1049.50" x2="1792.25" y2="1049.50" stroke="#000" stroke-width="1.8"/>
<circle cx="1368.75" cy="986.75" r="3.7" fill="#ff0000"/>
<circle cx="1383.25" cy="981.25" r="3.7" fill="#ff0000"/>
<circle cx="1393.25" cy="975.50" r="3.7" fill="#ff0000"/>
<circle cx="1468.75" cy="994.25" r="3.7" fill="#ff0000"/>
<circle cx="1479.25" cy="979.25" r="3.7" fill="#ff0000"/>
<circle cx="1489.50" cy="989.50" r="3.7" fill="#ff0000"/>
<circle cx="1518.25" cy="821.25" r="3.7" fill="#ff0000"/>
<circle cx="1529.25" cy="830.75" r="3.7" fill="#ff0000"/>
<circle cx="1539.25" cy="838.25" r="3.7" fill="#ff0000"/>
<circle cx="1552.50" cy="803.75" r="3.7" fill="#ff0000"/>
<circle cx="1562.50" cy="830.75" r="3.7" fill="#ff0000"/>
<circle cx="1573.00" cy="811.75" r="3.7" fill="#ff0000"/>
<circle cx="1585.75" cy="822.50" r="3.7" fill="#ff0000"/>
<circle cx="1595.75" cy="818.75" r="3.7" fill="#ff0000"/>
<circle cx="1606.25" cy="823.25" r="3.7" fill="#ff0000"/>
<circle cx="1618.75" cy="820.50" r="3.7" fill="#ff0000"/>
<circle cx="1629.25" cy="835.00" r="3.7" fill="#ff0000"/>
<circle cx="1639.50" cy="828.00" r="3.7" fill="#ff0000"/>
<circle cx="1673.00" cy="1051.75" r="3.7" fill="#ff0000"/>
<circle cx="1682.00" cy="1061.75" r="3.7" fill="#ff0000"/>
<circle cx="1691.25" cy="1049.50" r="3.7" fill="#ff0000"/>
<circle cx="1710.00" cy="1008.00" r="3.7" fill="#ff0000"/>
<circle cx="1716.75" cy="1064.25" r="3.7" fill="#ff0000"/>
<circle cx="1723.25" cy="1056.75" r="3.7" fill="#ff0000"/>
<circle cx="1743.00" cy="1055.00" r="3.7" fill="#ff0000"/>
<circle cx="1749.50" cy="1059.50" r="3.7" fill="#ff0000"/>
<circle cx="1755.75" cy="1049.25" r="3.7" fill="#ff0000"/>
<circle cx="1773.00" cy="1051.25" r="3.7" fill="#ff0000"/>
<circle cx="1783.25" cy="1046.50" r="3.7" fill="#ff0000"/>
<circle cx="1793.25" cy="1048.50" r="3.7" fill="#ff0000"/>
<line x1="1356.5" y1="791" x2="1356.5" y2="1153.75" stroke="#000" stroke-width="2.2"/>
<line x1="1349.5" y1="1154.45" x2="1811.25" y2="1154.45" stroke="#000" stroke-width="2.2"/>
<line x1="1349.5" y1="1153.75" x2="1356.5" y2="1153.75" stroke="#000" stroke-width="2"/>
<line x1="1352.3" y1="1126.52" x2="1356.5" y2="1126.52" stroke="#000" stroke-width="1.5"/>
<line x1="1352.3" y1="1110.59" x2="1356.5" y2="1110.59" stroke="#000" stroke-width="1.5"/>
<line x1="1352.3" y1="1099.29" x2="1356.5" y2="1099.29" stroke="#000" stroke-width="1.5"/>
<line x1="1352.3" y1="1090.53" x2="1356.5" y2="1090.53" stroke="#000" stroke-width="1.5"/>
<line x1="1352.3" y1="1083.37" x2="1356.5" y2="1083.37" stroke="#000" stroke-width="1.5"/>
<line x1="1352.3" y1="1077.31" x2="1356.5" y2="1077.31" stroke="#000" stroke-width="1.5"/>
<line x1="1352.3" y1="1072.07" x2="1356.5" y2="1072.07" stroke="#000" stroke-width="1.5"/>
<line x1="1352.3" y1="1067.44" x2="1356.5" y2="1067.44" stroke="#000" stroke-width="1.5"/>
<line x1="1349.5" y1="1063.30" x2="1356.5" y2="1063.30" stroke="#000" stroke-width="2"/>
<line x1="1352.3" y1="1036.07" x2="1356.5" y2="1036.07" stroke="#000" stroke-width="1.5"/>
<line x1="1352.3" y1="1020.14" x2="1356.5" y2="1020.14" stroke="#000" stroke-width="1.5"/>
<line x1="1352.3" y1="1008.84" x2="1356.5" y2="1008.84" stroke="#000" stroke-width="1.5"/>
<line x1="1352.3" y1="1000.08" x2="1356.5" y2="1000.08" stroke="#000" stroke-width="1.5"/>
<line x1="1352.3" y1="992.92" x2="1356.5" y2="992.92" stroke="#000" stroke-width="1.5"/>
<line x1="1352.3" y1="986.86" x2="1356.5" y2="986.86" stroke="#000" stroke-width="1.5"/>
<line x1="1352.3" y1="981.62" x2="1356.5" y2="981.62" stroke="#000" stroke-width="1.5"/>
<line x1="1352.3" y1="976.99" x2="1356.5" y2="976.99" stroke="#000" stroke-width="1.5"/>
<line x1="1349.5" y1="972.85" x2="1356.5" y2="972.85" stroke="#000" stroke-width="2"/>
<line x1="1352.3" y1="945.62" x2="1356.5" y2="945.62" stroke="#000" stroke-width="1.5"/>
<line x1="1352.3" y1="929.69" x2="1356.5" y2="929.69" stroke="#000" stroke-width="1.5"/>
<line x1="1352.3" y1="918.39" x2="1356.5" y2="918.39" stroke="#000" stroke-width="1.5"/>
<line x1="1352.3" y1="909.63" x2="1356.5" y2="909.63" stroke="#000" stroke-width="1.5"/>
<line x1="1352.3" y1="902.47" x2="1356.5" y2="902.47" stroke="#000" stroke-width="1.5"/>
<line x1="1352.3" y1="896.41" x2="1356.5" y2="896.41" stroke="#000" stroke-width="1.5"/>
<line x1="1352.3" y1="891.17" x2="1356.5" y2="891.17" stroke="#000" stroke-width="1.5"/>
<line x1="1352.3" y1="886.54" x2="1356.5" y2="886.54" stroke="#000" stroke-width="1.5"/>
<line x1="1349.5" y1="882.40" x2="1356.5" y2="882.40" stroke="#000" stroke-width="2"/>
<line x1="1352.3" y1="855.17" x2="1356.5" y2="855.17" stroke="#000" stroke-width="1.5"/>
<line x1="1352.3" y1="839.24" x2="1356.5" y2="839.24" stroke="#000" stroke-width="1.5"/>
<line x1="1352.3" y1="827.94" x2="1356.5" y2="827.94" stroke="#000" stroke-width="1.5"/>
<line x1="1352.3" y1="819.18" x2="1356.5" y2="819.18" stroke="#000" stroke-width="1.5"/>
<line x1="1352.3" y1="812.02" x2="1356.5" y2="812.02" stroke="#000" stroke-width="1.5"/>
<line x1="1352.3" y1="805.96" x2="1356.5" y2="805.96" stroke="#000" stroke-width="1.5"/>
<line x1="1352.3" y1="800.72" x2="1356.5" y2="800.72" stroke="#000" stroke-width="1.5"/>
<line x1="1352.3" y1="796.09" x2="1356.5" y2="796.09" stroke="#000" stroke-width="1.5"/>
<line x1="1349.5" y1="791.95" x2="1356.5" y2="791.95" stroke="#000" stroke-width="2"/>
<text x="1336.6" y="802.7" font-size="29" text-anchor="end" fill="#000">100</text>
<text x="1336.6" y="890" font-size="29" text-anchor="end" fill="#000">10</text>
<text x="1335.9" y="980.3" font-size="29" text-anchor="end" fill="#000">1</text>
<text x="1335.9" y="1071.9" font-size="29" text-anchor="end" fill="#000">0.1</text>
<text x="1334.6" y="1162.6" font-size="29" text-anchor="end" fill="#000">0.01</text>
<text x="1287.5" y="981.7" font-size="29" text-anchor="middle" fill="#000" transform="rotate(-90 1287.5 981.7)">nmol/mg protein</text>
<line x1="1433.25" y1="1153.75" x2="1433.25" y2="1161.55" stroke="#000" stroke-width="2"/>
<text x="1433.25" y="1188.5" font-size="29" text-anchor="middle" fill="#000">ET</text>
<line x1="1581.75" y1="1153.75" x2="1581.75" y2="1161.55" stroke="#000" stroke-width="2"/>
<text x="1581.75" y="1188.5" font-size="29" text-anchor="middle" fill="#000">GSH</text>
<line x1="1732" y1="1153.75" x2="1732" y2="1161.55" stroke="#000" stroke-width="2"/>
<text x="1732" y="1188.5" font-size="29" text-anchor="middle" fill="#000">CYS</text>
<text x="1418" y="1164.8" font-size="42" text-anchor="middle" fill="#000" font-weight="bold">*</text>
<text x="1445.8" y="1164.3" font-size="42" text-anchor="middle" fill="#000" font-weight="bold">*</text>
</g>
<g id="pg">
<text x="1822" y="730" font-size="58" fill="#231f20">g</text>
<rect x="1927.40" y="858.65" width="27.20" height="278.10" fill="#696969" stroke="#444" stroke-width="0.8"/>
<rect x="1967.40" y="1095.40" width="26.20" height="41.35" fill="#696969" stroke="#444" stroke-width="0.8"/>
<rect x="2005.40" y="1088.40" width="25.70" height="48.35" fill="#696969" stroke="#444" stroke-width="0.8"/>
<line x1="1940.75" y1="836.25" x2="1940.75" y2="880.50" stroke="#000" stroke-width="1.6"/>
<line x1="1930.75" y1="836.25" x2="1950.75" y2="836.25" stroke="#000" stroke-width="1.6"/>
<line x1="1930.75" y1="880.50" x2="1950.75" y2="880.50" stroke="#000" stroke-width="1.6"/>
<line x1="1980.25" y1="1058.25" x2="1980.25" y2="1132.50" stroke="#000" stroke-width="1.6"/>
<line x1="1970.25" y1="1058.25" x2="1990.25" y2="1058.25" stroke="#000" stroke-width="1.6"/>
<line x1="1970.25" y1="1132.50" x2="1990.25" y2="1132.50" stroke="#000" stroke-width="1.6"/>
<line x1="2017.75" y1="1054.25" x2="2017.75" y2="1123.00" stroke="#000" stroke-width="1.6"/>
<line x1="2007.75" y1="1054.25" x2="2027.75" y2="1054.25" stroke="#000" stroke-width="1.6"/>
<line x1="2007.75" y1="1123.00" x2="2027.75" y2="1123.00" stroke="#000" stroke-width="1.6"/>
<line x1="1912" y1="773.3" x2="1912" y2="1136.75" stroke="#000" stroke-width="2"/>
<line x1="1905" y1="1136.75" x2="2048" y2="1136.75" stroke="#000" stroke-width="2"/>
<line x1="1905" y1="1136.75" x2="1912" y2="1136.75" stroke="#000" stroke-width="2"/>
<line x1="1908" y1="1076.25" x2="1912" y2="1076.25" stroke="#000" stroke-width="1.5"/>
<line x1="1905" y1="1015.75" x2="1912" y2="1015.75" stroke="#000" stroke-width="2"/>
<line x1="1908" y1="955.25" x2="1912" y2="955.25" stroke="#000" stroke-width="1.5"/>
<line x1="1905" y1="894.75" x2="1912" y2="894.75" stroke="#000" stroke-width="2"/>
<line x1="1908" y1="834.25" x2="1912" y2="834.25" stroke="#000" stroke-width="1.5"/>
<line x1="1905" y1="773.75" x2="1912" y2="773.75" stroke="#000" stroke-width="2"/>
<text x="1898" y="1147.3" font-size="29" text-anchor="end" fill="#000">0.0</text>
<text x="1898" y="1025.3" font-size="29" text-anchor="end" fill="#000">0.5</text>
<text x="1898" y="904.1" font-size="29" text-anchor="end" fill="#000">1.0</text>
<text x="1898" y="783.0" font-size="29" text-anchor="end" fill="#000">1.5</text>
<line x1="1940.75" y1="1136.75" x2="1940.75" y2="1143.25" stroke="#000" stroke-width="2"/>
<line x1="1980.25" y1="1136.75" x2="1980.25" y2="1143.25" stroke="#000" stroke-width="2"/>
<line x1="2017.75" y1="1136.75" x2="2017.75" y2="1143.25" stroke="#000" stroke-width="2"/>
<circle cx="1931.25" cy="845.75" r="4.4" fill="#ff0000"/>
<circle cx="1950.25" cy="845.75" r="4.4" fill="#ff0000"/>
<circle cx="1940.75" cy="883.25" r="4.4" fill="#ff0000"/>
<circle cx="1972.75" cy="1067.00" r="4.4" fill="#ff0000"/>
<circle cx="1987.75" cy="1081.75" r="4.4" fill="#ff0000"/>
<circle cx="1980.25" cy="1135.00" r="4.4" fill="#ff0000"/>
<circle cx="2011.50" cy="1048.25" r="4.4" fill="#ff0000"/>
<circle cx="2017.75" cy="1108.00" r="4.4" fill="#ff0000"/>
<circle cx="2027.00" cy="1108.00" r="4.4" fill="#ff0000"/>
<text x="1846.4" y="971.4" font-size="29" text-anchor="middle" fill="#000" transform="rotate(-90 1846.4 971.4)">μM P<tspan font-size="21" dy="5">i</tspan><tspan dy="-5">/μM protein/min</tspan></text>
<text x="1948.2" y="1157.2" font-size="29" text-anchor="end" fill="#000" transform="rotate(-45 1948.2 1157.2)">WT</text>
<text x="1998" y="1158.6" font-size="29" text-anchor="end" fill="#000" transform="rotate(-45 1998 1158.6)">E161Q</text>
<text x="2041" y="1157.7" font-size="29" text-anchor="end" fill="#000" transform="rotate(-45 2041 1157.7)">K40A</text>
<path d="M1940.75,780.5 V770 H2017.75 V780.5" fill="none" stroke="#000" stroke-width="1.6"/>
<path d="M1940.75,825.75 V815 H1980.25 V825.75" fill="none" stroke="#000" stroke-width="1.6"/>
<path d="M1979.5,1036.75 V1028.75 H2019.5 V1036.75" fill="none" stroke="#000" stroke-width="1.6"/>
<text x="1977" y="774" font-size="34" text-anchor="middle" fill="#000" stroke="#000" stroke-width="0.5">**</text>
<text x="1959.5" y="819" font-size="34" text-anchor="middle" fill="#000" stroke="#000" stroke-width="0.5">***</text>
<text x="2000" y="1017" font-size="25.5" text-anchor="middle" fill="#000">ns</text>
</g>
</svg>
</body></html>
